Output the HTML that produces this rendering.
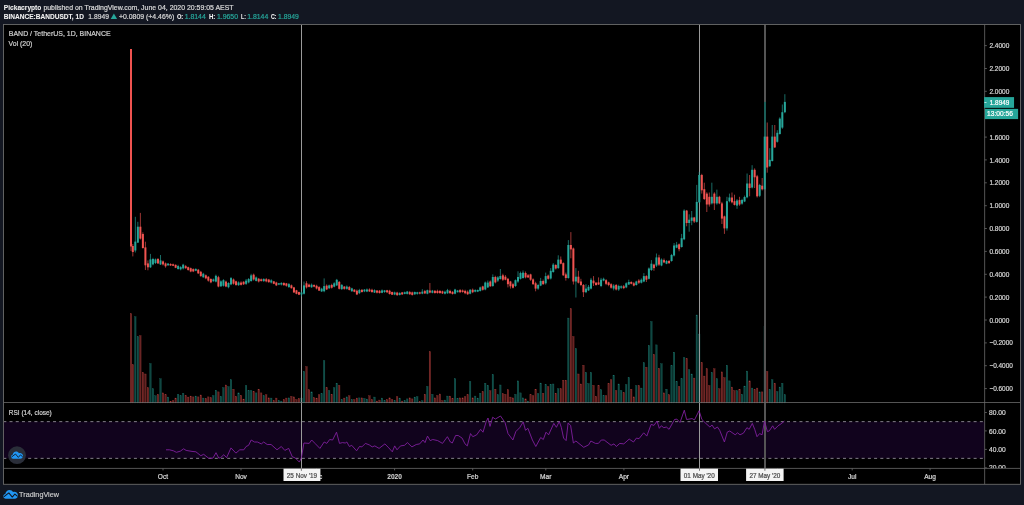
<!DOCTYPE html>
<html lang="en"><head><meta charset="utf-8"><title>BAND / TetherUS chart</title>
<style>html,body{margin:0;padding:0;background:#131722;overflow:hidden}svg{display:block}text{font-family:"Liberation Sans",Arial,sans-serif;white-space:pre}</style>
</head><body>
<svg width="1024" height="505" viewBox="0 0 1024 505">
<rect x="0" y="0" width="1024" height="505" fill="#131722"/>
<rect x="3.5" y="24.5" width="1017.0" height="459.8" fill="#000"/>
<rect x="3.5" y="421.6" width="981.15" height="36.7" fill="#11031d"/>
<line x1="4.0" y1="421.65" x2="984.65" y2="421.65" stroke="#847f8a" stroke-width="1" stroke-dasharray="3.0 3.22" stroke-dashoffset="0.7"/>
<line x1="4.0" y1="458.35" x2="984.65" y2="458.35" stroke="#847f8a" stroke-width="1" stroke-dasharray="3.0 3.22" stroke-dashoffset="0.7"/>
<g>
<rect x="130.28" y="313.68" width="1.44" height="89.22" fill="#ef5350" fill-opacity="0.42" stroke="#ef5350" stroke-opacity="0.55" stroke-width="0.36"/>
<rect x="132.10" y="364.78" width="1.44" height="38.12" fill="#ef5350" fill-opacity="0.42" stroke="#ef5350" stroke-opacity="0.55" stroke-width="0.36"/>
<rect x="134.62" y="316.78" width="1.44" height="86.12" fill="#26a69a" fill-opacity="0.42" stroke="#26a69a" stroke-opacity="0.55" stroke-width="0.36"/>
<rect x="137.13" y="336.58" width="1.44" height="66.32" fill="#26a69a" fill-opacity="0.42" stroke="#26a69a" stroke-opacity="0.55" stroke-width="0.36"/>
<rect x="139.65" y="335.68" width="1.44" height="67.22" fill="#ef5350" fill-opacity="0.42" stroke="#ef5350" stroke-opacity="0.55" stroke-width="0.36"/>
<rect x="142.17" y="372.48" width="1.44" height="30.42" fill="#ef5350" fill-opacity="0.42" stroke="#ef5350" stroke-opacity="0.55" stroke-width="0.36"/>
<rect x="144.69" y="373.98" width="1.44" height="28.92" fill="#ef5350" fill-opacity="0.42" stroke="#ef5350" stroke-opacity="0.55" stroke-width="0.36"/>
<rect x="147.20" y="387.68" width="1.44" height="15.22" fill="#ef5350" fill-opacity="0.42" stroke="#ef5350" stroke-opacity="0.55" stroke-width="0.36"/>
<rect x="149.72" y="363.58" width="1.44" height="39.32" fill="#26a69a" fill-opacity="0.42" stroke="#26a69a" stroke-opacity="0.55" stroke-width="0.36"/>
<rect x="152.24" y="388.78" width="1.44" height="14.12" fill="#26a69a" fill-opacity="0.42" stroke="#26a69a" stroke-opacity="0.55" stroke-width="0.36"/>
<rect x="154.76" y="395.78" width="1.44" height="7.12" fill="#26a69a" fill-opacity="0.42" stroke="#26a69a" stroke-opacity="0.55" stroke-width="0.36"/>
<rect x="157.27" y="394.38" width="1.44" height="8.52" fill="#ef5350" fill-opacity="0.42" stroke="#ef5350" stroke-opacity="0.55" stroke-width="0.36"/>
<rect x="159.79" y="378.78" width="1.44" height="24.12" fill="#26a69a" fill-opacity="0.42" stroke="#26a69a" stroke-opacity="0.55" stroke-width="0.36"/>
<rect x="162.31" y="392.88" width="1.44" height="10.02" fill="#ef5350" fill-opacity="0.42" stroke="#ef5350" stroke-opacity="0.55" stroke-width="0.36"/>
<rect x="164.83" y="394.78" width="1.44" height="8.12" fill="#ef5350" fill-opacity="0.42" stroke="#ef5350" stroke-opacity="0.55" stroke-width="0.36"/>
<rect x="167.34" y="397.08" width="1.44" height="5.82" fill="#26a69a" fill-opacity="0.42" stroke="#26a69a" stroke-opacity="0.55" stroke-width="0.36"/>
<rect x="169.86" y="401.18" width="1.44" height="1.72" fill="#ef5350" fill-opacity="0.42" stroke="#ef5350" stroke-opacity="0.55" stroke-width="0.36"/>
<rect x="172.38" y="400.58" width="1.44" height="2.32" fill="#ef5350" fill-opacity="0.42" stroke="#ef5350" stroke-opacity="0.55" stroke-width="0.36"/>
<rect x="174.90" y="398.08" width="1.44" height="4.82" fill="#ef5350" fill-opacity="0.42" stroke="#ef5350" stroke-opacity="0.55" stroke-width="0.36"/>
<rect x="177.41" y="394.38" width="1.44" height="8.52" fill="#26a69a" fill-opacity="0.42" stroke="#26a69a" stroke-opacity="0.55" stroke-width="0.36"/>
<rect x="179.93" y="395.78" width="1.44" height="7.12" fill="#26a69a" fill-opacity="0.42" stroke="#26a69a" stroke-opacity="0.55" stroke-width="0.36"/>
<rect x="182.45" y="393.28" width="1.44" height="9.62" fill="#26a69a" fill-opacity="0.42" stroke="#26a69a" stroke-opacity="0.55" stroke-width="0.36"/>
<rect x="184.97" y="395.58" width="1.44" height="7.32" fill="#ef5350" fill-opacity="0.42" stroke="#ef5350" stroke-opacity="0.55" stroke-width="0.36"/>
<rect x="187.48" y="397.08" width="1.44" height="5.82" fill="#ef5350" fill-opacity="0.42" stroke="#ef5350" stroke-opacity="0.55" stroke-width="0.36"/>
<rect x="190.00" y="396.08" width="1.44" height="6.82" fill="#ef5350" fill-opacity="0.42" stroke="#ef5350" stroke-opacity="0.55" stroke-width="0.36"/>
<rect x="192.52" y="396.88" width="1.44" height="6.02" fill="#ef5350" fill-opacity="0.42" stroke="#ef5350" stroke-opacity="0.55" stroke-width="0.36"/>
<rect x="195.03" y="396.08" width="1.44" height="6.82" fill="#26a69a" fill-opacity="0.42" stroke="#26a69a" stroke-opacity="0.55" stroke-width="0.36"/>
<rect x="197.55" y="396.88" width="1.44" height="6.02" fill="#ef5350" fill-opacity="0.42" stroke="#ef5350" stroke-opacity="0.55" stroke-width="0.36"/>
<rect x="200.07" y="394.98" width="1.44" height="7.92" fill="#ef5350" fill-opacity="0.42" stroke="#ef5350" stroke-opacity="0.55" stroke-width="0.36"/>
<rect x="202.59" y="398.08" width="1.44" height="4.82" fill="#26a69a" fill-opacity="0.42" stroke="#26a69a" stroke-opacity="0.55" stroke-width="0.36"/>
<rect x="205.11" y="398.48" width="1.44" height="4.42" fill="#ef5350" fill-opacity="0.42" stroke="#ef5350" stroke-opacity="0.55" stroke-width="0.36"/>
<rect x="207.62" y="396.88" width="1.44" height="6.02" fill="#ef5350" fill-opacity="0.42" stroke="#ef5350" stroke-opacity="0.55" stroke-width="0.36"/>
<rect x="210.14" y="397.68" width="1.44" height="5.22" fill="#ef5350" fill-opacity="0.42" stroke="#ef5350" stroke-opacity="0.55" stroke-width="0.36"/>
<rect x="212.66" y="395.58" width="1.44" height="7.32" fill="#26a69a" fill-opacity="0.42" stroke="#26a69a" stroke-opacity="0.55" stroke-width="0.36"/>
<rect x="215.18" y="390.18" width="1.44" height="12.72" fill="#26a69a" fill-opacity="0.42" stroke="#26a69a" stroke-opacity="0.55" stroke-width="0.36"/>
<rect x="217.69" y="391.88" width="1.44" height="11.02" fill="#ef5350" fill-opacity="0.42" stroke="#ef5350" stroke-opacity="0.55" stroke-width="0.36"/>
<rect x="220.21" y="396.38" width="1.44" height="6.52" fill="#26a69a" fill-opacity="0.42" stroke="#26a69a" stroke-opacity="0.55" stroke-width="0.36"/>
<rect x="222.73" y="387.68" width="1.44" height="15.22" fill="#26a69a" fill-opacity="0.42" stroke="#26a69a" stroke-opacity="0.55" stroke-width="0.36"/>
<rect x="225.25" y="384.98" width="1.44" height="17.92" fill="#ef5350" fill-opacity="0.42" stroke="#ef5350" stroke-opacity="0.55" stroke-width="0.36"/>
<rect x="227.76" y="386.68" width="1.44" height="16.22" fill="#26a69a" fill-opacity="0.42" stroke="#26a69a" stroke-opacity="0.55" stroke-width="0.36"/>
<rect x="230.28" y="379.78" width="1.44" height="23.12" fill="#26a69a" fill-opacity="0.42" stroke="#26a69a" stroke-opacity="0.55" stroke-width="0.36"/>
<rect x="232.80" y="389.18" width="1.44" height="13.72" fill="#ef5350" fill-opacity="0.42" stroke="#ef5350" stroke-opacity="0.55" stroke-width="0.36"/>
<rect x="235.32" y="396.38" width="1.44" height="6.52" fill="#ef5350" fill-opacity="0.42" stroke="#ef5350" stroke-opacity="0.55" stroke-width="0.36"/>
<rect x="237.83" y="392.88" width="1.44" height="10.02" fill="#26a69a" fill-opacity="0.42" stroke="#26a69a" stroke-opacity="0.55" stroke-width="0.36"/>
<rect x="240.35" y="395.38" width="1.44" height="7.52" fill="#ef5350" fill-opacity="0.42" stroke="#ef5350" stroke-opacity="0.55" stroke-width="0.36"/>
<rect x="242.87" y="399.08" width="1.44" height="3.82" fill="#ef5350" fill-opacity="0.42" stroke="#ef5350" stroke-opacity="0.55" stroke-width="0.36"/>
<rect x="245.39" y="385.58" width="1.44" height="17.32" fill="#26a69a" fill-opacity="0.42" stroke="#26a69a" stroke-opacity="0.55" stroke-width="0.36"/>
<rect x="247.90" y="390.58" width="1.44" height="12.32" fill="#26a69a" fill-opacity="0.42" stroke="#26a69a" stroke-opacity="0.55" stroke-width="0.36"/>
<rect x="250.42" y="390.58" width="1.44" height="12.32" fill="#26a69a" fill-opacity="0.42" stroke="#26a69a" stroke-opacity="0.55" stroke-width="0.36"/>
<rect x="252.94" y="391.48" width="1.44" height="11.42" fill="#ef5350" fill-opacity="0.42" stroke="#ef5350" stroke-opacity="0.55" stroke-width="0.36"/>
<rect x="255.46" y="392.88" width="1.44" height="10.02" fill="#26a69a" fill-opacity="0.42" stroke="#26a69a" stroke-opacity="0.55" stroke-width="0.36"/>
<rect x="257.97" y="389.18" width="1.44" height="13.72" fill="#ef5350" fill-opacity="0.42" stroke="#ef5350" stroke-opacity="0.55" stroke-width="0.36"/>
<rect x="260.49" y="392.88" width="1.44" height="10.02" fill="#ef5350" fill-opacity="0.42" stroke="#ef5350" stroke-opacity="0.55" stroke-width="0.36"/>
<rect x="263.01" y="395.78" width="1.44" height="7.12" fill="#26a69a" fill-opacity="0.42" stroke="#26a69a" stroke-opacity="0.55" stroke-width="0.36"/>
<rect x="265.52" y="394.78" width="1.44" height="8.12" fill="#ef5350" fill-opacity="0.42" stroke="#ef5350" stroke-opacity="0.55" stroke-width="0.36"/>
<rect x="268.04" y="397.88" width="1.44" height="5.02" fill="#ef5350" fill-opacity="0.42" stroke="#ef5350" stroke-opacity="0.55" stroke-width="0.36"/>
<rect x="270.56" y="398.08" width="1.44" height="4.82" fill="#26a69a" fill-opacity="0.42" stroke="#26a69a" stroke-opacity="0.55" stroke-width="0.36"/>
<rect x="273.08" y="400.58" width="1.44" height="2.32" fill="#ef5350" fill-opacity="0.42" stroke="#ef5350" stroke-opacity="0.55" stroke-width="0.36"/>
<rect x="275.60" y="398.08" width="1.44" height="4.82" fill="#ef5350" fill-opacity="0.42" stroke="#ef5350" stroke-opacity="0.55" stroke-width="0.36"/>
<rect x="278.11" y="400.58" width="1.44" height="2.32" fill="#26a69a" fill-opacity="0.42" stroke="#26a69a" stroke-opacity="0.55" stroke-width="0.36"/>
<rect x="280.63" y="401.08" width="1.44" height="1.82" fill="#26a69a" fill-opacity="0.42" stroke="#26a69a" stroke-opacity="0.55" stroke-width="0.36"/>
<rect x="283.15" y="399.58" width="1.44" height="3.32" fill="#ef5350" fill-opacity="0.42" stroke="#ef5350" stroke-opacity="0.55" stroke-width="0.36"/>
<rect x="285.66" y="398.08" width="1.44" height="4.82" fill="#ef5350" fill-opacity="0.42" stroke="#ef5350" stroke-opacity="0.55" stroke-width="0.36"/>
<rect x="288.18" y="397.88" width="1.44" height="5.02" fill="#26a69a" fill-opacity="0.42" stroke="#26a69a" stroke-opacity="0.55" stroke-width="0.36"/>
<rect x="290.70" y="396.38" width="1.44" height="6.52" fill="#ef5350" fill-opacity="0.42" stroke="#ef5350" stroke-opacity="0.55" stroke-width="0.36"/>
<rect x="293.22" y="396.88" width="1.44" height="6.02" fill="#ef5350" fill-opacity="0.42" stroke="#ef5350" stroke-opacity="0.55" stroke-width="0.36"/>
<rect x="295.74" y="399.58" width="1.44" height="3.32" fill="#ef5350" fill-opacity="0.42" stroke="#ef5350" stroke-opacity="0.55" stroke-width="0.36"/>
<rect x="298.25" y="398.48" width="1.44" height="4.42" fill="#ef5350" fill-opacity="0.42" stroke="#ef5350" stroke-opacity="0.55" stroke-width="0.36"/>
<rect x="300.77" y="398.08" width="1.44" height="4.82" fill="#26a69a" fill-opacity="0.42" stroke="#26a69a" stroke-opacity="0.55" stroke-width="0.36"/>
<rect x="303.29" y="371.48" width="1.44" height="31.42" fill="#26a69a" fill-opacity="0.42" stroke="#26a69a" stroke-opacity="0.55" stroke-width="0.36"/>
<rect x="305.80" y="366.68" width="1.44" height="36.22" fill="#ef5350" fill-opacity="0.42" stroke="#ef5350" stroke-opacity="0.55" stroke-width="0.36"/>
<rect x="308.32" y="389.78" width="1.44" height="13.12" fill="#ef5350" fill-opacity="0.42" stroke="#ef5350" stroke-opacity="0.55" stroke-width="0.36"/>
<rect x="310.84" y="391.88" width="1.44" height="11.02" fill="#26a69a" fill-opacity="0.42" stroke="#26a69a" stroke-opacity="0.55" stroke-width="0.36"/>
<rect x="313.36" y="397.68" width="1.44" height="5.22" fill="#ef5350" fill-opacity="0.42" stroke="#ef5350" stroke-opacity="0.55" stroke-width="0.36"/>
<rect x="315.88" y="398.08" width="1.44" height="4.82" fill="#ef5350" fill-opacity="0.42" stroke="#ef5350" stroke-opacity="0.55" stroke-width="0.36"/>
<rect x="318.39" y="394.78" width="1.44" height="8.12" fill="#ef5350" fill-opacity="0.42" stroke="#ef5350" stroke-opacity="0.55" stroke-width="0.36"/>
<rect x="320.91" y="393.68" width="1.44" height="9.22" fill="#26a69a" fill-opacity="0.42" stroke="#26a69a" stroke-opacity="0.55" stroke-width="0.36"/>
<rect x="323.43" y="360.68" width="1.44" height="42.22" fill="#26a69a" fill-opacity="0.42" stroke="#26a69a" stroke-opacity="0.55" stroke-width="0.36"/>
<rect x="325.94" y="387.68" width="1.44" height="15.22" fill="#ef5350" fill-opacity="0.42" stroke="#ef5350" stroke-opacity="0.55" stroke-width="0.36"/>
<rect x="328.46" y="390.58" width="1.44" height="12.32" fill="#26a69a" fill-opacity="0.42" stroke="#26a69a" stroke-opacity="0.55" stroke-width="0.36"/>
<rect x="330.98" y="394.38" width="1.44" height="8.52" fill="#ef5350" fill-opacity="0.42" stroke="#ef5350" stroke-opacity="0.55" stroke-width="0.36"/>
<rect x="333.50" y="387.68" width="1.44" height="15.22" fill="#26a69a" fill-opacity="0.42" stroke="#26a69a" stroke-opacity="0.55" stroke-width="0.36"/>
<rect x="336.01" y="383.28" width="1.44" height="19.62" fill="#26a69a" fill-opacity="0.42" stroke="#26a69a" stroke-opacity="0.55" stroke-width="0.36"/>
<rect x="338.53" y="385.38" width="1.44" height="17.52" fill="#ef5350" fill-opacity="0.42" stroke="#ef5350" stroke-opacity="0.55" stroke-width="0.36"/>
<rect x="341.05" y="399.58" width="1.44" height="3.32" fill="#26a69a" fill-opacity="0.42" stroke="#26a69a" stroke-opacity="0.55" stroke-width="0.36"/>
<rect x="343.57" y="398.08" width="1.44" height="4.82" fill="#ef5350" fill-opacity="0.42" stroke="#ef5350" stroke-opacity="0.55" stroke-width="0.36"/>
<rect x="346.08" y="396.88" width="1.44" height="6.02" fill="#26a69a" fill-opacity="0.42" stroke="#26a69a" stroke-opacity="0.55" stroke-width="0.36"/>
<rect x="348.60" y="395.78" width="1.44" height="7.12" fill="#ef5350" fill-opacity="0.42" stroke="#ef5350" stroke-opacity="0.55" stroke-width="0.36"/>
<rect x="351.12" y="399.58" width="1.44" height="3.32" fill="#26a69a" fill-opacity="0.42" stroke="#26a69a" stroke-opacity="0.55" stroke-width="0.36"/>
<rect x="353.64" y="399.58" width="1.44" height="3.32" fill="#ef5350" fill-opacity="0.42" stroke="#ef5350" stroke-opacity="0.55" stroke-width="0.36"/>
<rect x="356.15" y="398.08" width="1.44" height="4.82" fill="#ef5350" fill-opacity="0.42" stroke="#ef5350" stroke-opacity="0.55" stroke-width="0.36"/>
<rect x="358.67" y="397.88" width="1.44" height="5.02" fill="#26a69a" fill-opacity="0.42" stroke="#26a69a" stroke-opacity="0.55" stroke-width="0.36"/>
<rect x="361.19" y="397.88" width="1.44" height="5.02" fill="#ef5350" fill-opacity="0.42" stroke="#ef5350" stroke-opacity="0.55" stroke-width="0.36"/>
<rect x="363.71" y="398.48" width="1.44" height="4.42" fill="#26a69a" fill-opacity="0.42" stroke="#26a69a" stroke-opacity="0.55" stroke-width="0.36"/>
<rect x="366.23" y="399.08" width="1.44" height="3.82" fill="#26a69a" fill-opacity="0.42" stroke="#26a69a" stroke-opacity="0.55" stroke-width="0.36"/>
<rect x="368.74" y="395.78" width="1.44" height="7.12" fill="#ef5350" fill-opacity="0.42" stroke="#ef5350" stroke-opacity="0.55" stroke-width="0.36"/>
<rect x="371.26" y="399.58" width="1.44" height="3.32" fill="#ef5350" fill-opacity="0.42" stroke="#ef5350" stroke-opacity="0.55" stroke-width="0.36"/>
<rect x="373.78" y="397.08" width="1.44" height="5.82" fill="#26a69a" fill-opacity="0.42" stroke="#26a69a" stroke-opacity="0.55" stroke-width="0.36"/>
<rect x="376.29" y="401.08" width="1.44" height="1.82" fill="#ef5350" fill-opacity="0.42" stroke="#ef5350" stroke-opacity="0.55" stroke-width="0.36"/>
<rect x="378.81" y="400.08" width="1.44" height="2.82" fill="#ef5350" fill-opacity="0.42" stroke="#ef5350" stroke-opacity="0.55" stroke-width="0.36"/>
<rect x="381.33" y="398.08" width="1.44" height="4.82" fill="#26a69a" fill-opacity="0.42" stroke="#26a69a" stroke-opacity="0.55" stroke-width="0.36"/>
<rect x="383.85" y="400.58" width="1.44" height="2.32" fill="#26a69a" fill-opacity="0.42" stroke="#26a69a" stroke-opacity="0.55" stroke-width="0.36"/>
<rect x="386.37" y="399.58" width="1.44" height="3.32" fill="#ef5350" fill-opacity="0.42" stroke="#ef5350" stroke-opacity="0.55" stroke-width="0.36"/>
<rect x="388.88" y="397.88" width="1.44" height="5.02" fill="#ef5350" fill-opacity="0.42" stroke="#ef5350" stroke-opacity="0.55" stroke-width="0.36"/>
<rect x="391.40" y="399.58" width="1.44" height="3.32" fill="#ef5350" fill-opacity="0.42" stroke="#ef5350" stroke-opacity="0.55" stroke-width="0.36"/>
<rect x="393.92" y="400.58" width="1.44" height="2.32" fill="#26a69a" fill-opacity="0.42" stroke="#26a69a" stroke-opacity="0.55" stroke-width="0.36"/>
<rect x="396.44" y="396.68" width="1.44" height="6.22" fill="#ef5350" fill-opacity="0.42" stroke="#ef5350" stroke-opacity="0.55" stroke-width="0.36"/>
<rect x="398.95" y="398.08" width="1.44" height="4.82" fill="#26a69a" fill-opacity="0.42" stroke="#26a69a" stroke-opacity="0.55" stroke-width="0.36"/>
<rect x="401.47" y="401.08" width="1.44" height="1.82" fill="#ef5350" fill-opacity="0.42" stroke="#ef5350" stroke-opacity="0.55" stroke-width="0.36"/>
<rect x="403.99" y="400.58" width="1.44" height="2.32" fill="#26a69a" fill-opacity="0.42" stroke="#26a69a" stroke-opacity="0.55" stroke-width="0.36"/>
<rect x="406.50" y="398.88" width="1.44" height="4.02" fill="#26a69a" fill-opacity="0.42" stroke="#26a69a" stroke-opacity="0.55" stroke-width="0.36"/>
<rect x="409.02" y="397.88" width="1.44" height="5.02" fill="#ef5350" fill-opacity="0.42" stroke="#ef5350" stroke-opacity="0.55" stroke-width="0.36"/>
<rect x="411.54" y="398.88" width="1.44" height="4.02" fill="#ef5350" fill-opacity="0.42" stroke="#ef5350" stroke-opacity="0.55" stroke-width="0.36"/>
<rect x="414.06" y="397.08" width="1.44" height="5.82" fill="#26a69a" fill-opacity="0.42" stroke="#26a69a" stroke-opacity="0.55" stroke-width="0.36"/>
<rect x="416.57" y="396.68" width="1.44" height="6.22" fill="#26a69a" fill-opacity="0.42" stroke="#26a69a" stroke-opacity="0.55" stroke-width="0.36"/>
<rect x="419.09" y="401.58" width="1.44" height="1.32" fill="#ef5350" fill-opacity="0.42" stroke="#ef5350" stroke-opacity="0.55" stroke-width="0.36"/>
<rect x="421.61" y="400.78" width="1.44" height="2.12" fill="#26a69a" fill-opacity="0.42" stroke="#26a69a" stroke-opacity="0.55" stroke-width="0.36"/>
<rect x="424.13" y="394.38" width="1.44" height="8.52" fill="#ef5350" fill-opacity="0.42" stroke="#ef5350" stroke-opacity="0.55" stroke-width="0.36"/>
<rect x="426.64" y="386.48" width="1.44" height="16.42" fill="#26a69a" fill-opacity="0.42" stroke="#26a69a" stroke-opacity="0.55" stroke-width="0.36"/>
<rect x="429.16" y="351.68" width="1.44" height="51.22" fill="#ef5350" fill-opacity="0.42" stroke="#ef5350" stroke-opacity="0.55" stroke-width="0.36"/>
<rect x="431.68" y="394.38" width="1.44" height="8.52" fill="#26a69a" fill-opacity="0.42" stroke="#26a69a" stroke-opacity="0.55" stroke-width="0.36"/>
<rect x="434.20" y="397.88" width="1.44" height="5.02" fill="#ef5350" fill-opacity="0.42" stroke="#ef5350" stroke-opacity="0.55" stroke-width="0.36"/>
<rect x="436.71" y="395.58" width="1.44" height="7.32" fill="#ef5350" fill-opacity="0.42" stroke="#ef5350" stroke-opacity="0.55" stroke-width="0.36"/>
<rect x="439.23" y="393.98" width="1.44" height="8.92" fill="#ef5350" fill-opacity="0.42" stroke="#ef5350" stroke-opacity="0.55" stroke-width="0.36"/>
<rect x="441.75" y="400.58" width="1.44" height="2.32" fill="#ef5350" fill-opacity="0.42" stroke="#ef5350" stroke-opacity="0.55" stroke-width="0.36"/>
<rect x="444.27" y="400.08" width="1.44" height="2.82" fill="#26a69a" fill-opacity="0.42" stroke="#26a69a" stroke-opacity="0.55" stroke-width="0.36"/>
<rect x="446.78" y="396.08" width="1.44" height="6.82" fill="#26a69a" fill-opacity="0.42" stroke="#26a69a" stroke-opacity="0.55" stroke-width="0.36"/>
<rect x="449.30" y="396.08" width="1.44" height="6.82" fill="#ef5350" fill-opacity="0.42" stroke="#ef5350" stroke-opacity="0.55" stroke-width="0.36"/>
<rect x="451.82" y="398.48" width="1.44" height="4.42" fill="#ef5350" fill-opacity="0.42" stroke="#ef5350" stroke-opacity="0.55" stroke-width="0.36"/>
<rect x="454.34" y="378.78" width="1.44" height="24.12" fill="#26a69a" fill-opacity="0.42" stroke="#26a69a" stroke-opacity="0.55" stroke-width="0.36"/>
<rect x="456.86" y="398.48" width="1.44" height="4.42" fill="#26a69a" fill-opacity="0.42" stroke="#26a69a" stroke-opacity="0.55" stroke-width="0.36"/>
<rect x="459.37" y="397.88" width="1.44" height="5.02" fill="#ef5350" fill-opacity="0.42" stroke="#ef5350" stroke-opacity="0.55" stroke-width="0.36"/>
<rect x="461.89" y="397.88" width="1.44" height="5.02" fill="#ef5350" fill-opacity="0.42" stroke="#ef5350" stroke-opacity="0.55" stroke-width="0.36"/>
<rect x="464.41" y="396.68" width="1.44" height="6.22" fill="#ef5350" fill-opacity="0.42" stroke="#ef5350" stroke-opacity="0.55" stroke-width="0.36"/>
<rect x="466.93" y="394.78" width="1.44" height="8.12" fill="#ef5350" fill-opacity="0.42" stroke="#ef5350" stroke-opacity="0.55" stroke-width="0.36"/>
<rect x="469.44" y="381.48" width="1.44" height="21.42" fill="#26a69a" fill-opacity="0.42" stroke="#26a69a" stroke-opacity="0.55" stroke-width="0.36"/>
<rect x="471.96" y="397.88" width="1.44" height="5.02" fill="#ef5350" fill-opacity="0.42" stroke="#ef5350" stroke-opacity="0.55" stroke-width="0.36"/>
<rect x="474.48" y="396.08" width="1.44" height="6.82" fill="#26a69a" fill-opacity="0.42" stroke="#26a69a" stroke-opacity="0.55" stroke-width="0.36"/>
<rect x="477.00" y="398.08" width="1.44" height="4.82" fill="#26a69a" fill-opacity="0.42" stroke="#26a69a" stroke-opacity="0.55" stroke-width="0.36"/>
<rect x="479.51" y="393.28" width="1.44" height="9.62" fill="#26a69a" fill-opacity="0.42" stroke="#26a69a" stroke-opacity="0.55" stroke-width="0.36"/>
<rect x="482.03" y="391.68" width="1.44" height="11.22" fill="#ef5350" fill-opacity="0.42" stroke="#ef5350" stroke-opacity="0.55" stroke-width="0.36"/>
<rect x="484.55" y="383.28" width="1.44" height="19.62" fill="#26a69a" fill-opacity="0.42" stroke="#26a69a" stroke-opacity="0.55" stroke-width="0.36"/>
<rect x="487.06" y="385.38" width="1.44" height="17.52" fill="#26a69a" fill-opacity="0.42" stroke="#26a69a" stroke-opacity="0.55" stroke-width="0.36"/>
<rect x="489.58" y="390.78" width="1.44" height="12.12" fill="#ef5350" fill-opacity="0.42" stroke="#ef5350" stroke-opacity="0.55" stroke-width="0.36"/>
<rect x="492.10" y="374.58" width="1.44" height="28.32" fill="#26a69a" fill-opacity="0.42" stroke="#26a69a" stroke-opacity="0.55" stroke-width="0.36"/>
<rect x="494.62" y="389.18" width="1.44" height="13.72" fill="#ef5350" fill-opacity="0.42" stroke="#ef5350" stroke-opacity="0.55" stroke-width="0.36"/>
<rect x="497.13" y="394.78" width="1.44" height="8.12" fill="#26a69a" fill-opacity="0.42" stroke="#26a69a" stroke-opacity="0.55" stroke-width="0.36"/>
<rect x="499.65" y="384.98" width="1.44" height="17.92" fill="#26a69a" fill-opacity="0.42" stroke="#26a69a" stroke-opacity="0.55" stroke-width="0.36"/>
<rect x="502.17" y="393.68" width="1.44" height="9.22" fill="#ef5350" fill-opacity="0.42" stroke="#ef5350" stroke-opacity="0.55" stroke-width="0.36"/>
<rect x="504.69" y="394.38" width="1.44" height="8.52" fill="#ef5350" fill-opacity="0.42" stroke="#ef5350" stroke-opacity="0.55" stroke-width="0.36"/>
<rect x="507.20" y="389.78" width="1.44" height="13.12" fill="#ef5350" fill-opacity="0.42" stroke="#ef5350" stroke-opacity="0.55" stroke-width="0.36"/>
<rect x="509.72" y="397.08" width="1.44" height="5.82" fill="#ef5350" fill-opacity="0.42" stroke="#ef5350" stroke-opacity="0.55" stroke-width="0.36"/>
<rect x="512.24" y="397.88" width="1.44" height="5.02" fill="#ef5350" fill-opacity="0.42" stroke="#ef5350" stroke-opacity="0.55" stroke-width="0.36"/>
<rect x="514.76" y="394.38" width="1.44" height="8.52" fill="#26a69a" fill-opacity="0.42" stroke="#26a69a" stroke-opacity="0.55" stroke-width="0.36"/>
<rect x="517.27" y="380.88" width="1.44" height="22.02" fill="#26a69a" fill-opacity="0.42" stroke="#26a69a" stroke-opacity="0.55" stroke-width="0.36"/>
<rect x="519.79" y="392.88" width="1.44" height="10.02" fill="#26a69a" fill-opacity="0.42" stroke="#26a69a" stroke-opacity="0.55" stroke-width="0.36"/>
<rect x="522.31" y="397.88" width="1.44" height="5.02" fill="#26a69a" fill-opacity="0.42" stroke="#26a69a" stroke-opacity="0.55" stroke-width="0.36"/>
<rect x="524.83" y="398.88" width="1.44" height="4.02" fill="#ef5350" fill-opacity="0.42" stroke="#ef5350" stroke-opacity="0.55" stroke-width="0.36"/>
<rect x="527.35" y="401.08" width="1.44" height="1.82" fill="#26a69a" fill-opacity="0.42" stroke="#26a69a" stroke-opacity="0.55" stroke-width="0.36"/>
<rect x="529.86" y="394.78" width="1.44" height="8.12" fill="#ef5350" fill-opacity="0.42" stroke="#ef5350" stroke-opacity="0.55" stroke-width="0.36"/>
<rect x="532.38" y="395.78" width="1.44" height="7.12" fill="#ef5350" fill-opacity="0.42" stroke="#ef5350" stroke-opacity="0.55" stroke-width="0.36"/>
<rect x="534.90" y="389.18" width="1.44" height="13.72" fill="#ef5350" fill-opacity="0.42" stroke="#ef5350" stroke-opacity="0.55" stroke-width="0.36"/>
<rect x="537.41" y="393.68" width="1.44" height="9.22" fill="#26a69a" fill-opacity="0.42" stroke="#26a69a" stroke-opacity="0.55" stroke-width="0.36"/>
<rect x="539.93" y="383.08" width="1.44" height="19.82" fill="#26a69a" fill-opacity="0.42" stroke="#26a69a" stroke-opacity="0.55" stroke-width="0.36"/>
<rect x="542.45" y="393.28" width="1.44" height="9.62" fill="#ef5350" fill-opacity="0.42" stroke="#ef5350" stroke-opacity="0.55" stroke-width="0.36"/>
<rect x="544.97" y="384.38" width="1.44" height="18.52" fill="#26a69a" fill-opacity="0.42" stroke="#26a69a" stroke-opacity="0.55" stroke-width="0.36"/>
<rect x="547.49" y="386.68" width="1.44" height="16.22" fill="#ef5350" fill-opacity="0.42" stroke="#ef5350" stroke-opacity="0.55" stroke-width="0.36"/>
<rect x="550.00" y="384.38" width="1.44" height="18.52" fill="#26a69a" fill-opacity="0.42" stroke="#26a69a" stroke-opacity="0.55" stroke-width="0.36"/>
<rect x="552.52" y="383.98" width="1.44" height="18.92" fill="#26a69a" fill-opacity="0.42" stroke="#26a69a" stroke-opacity="0.55" stroke-width="0.36"/>
<rect x="555.04" y="393.28" width="1.44" height="9.62" fill="#ef5350" fill-opacity="0.42" stroke="#ef5350" stroke-opacity="0.55" stroke-width="0.36"/>
<rect x="557.56" y="388.78" width="1.44" height="14.12" fill="#26a69a" fill-opacity="0.42" stroke="#26a69a" stroke-opacity="0.55" stroke-width="0.36"/>
<rect x="560.07" y="388.78" width="1.44" height="14.12" fill="#ef5350" fill-opacity="0.42" stroke="#ef5350" stroke-opacity="0.55" stroke-width="0.36"/>
<rect x="562.59" y="380.18" width="1.44" height="22.72" fill="#ef5350" fill-opacity="0.42" stroke="#ef5350" stroke-opacity="0.55" stroke-width="0.36"/>
<rect x="565.11" y="380.18" width="1.44" height="22.72" fill="#ef5350" fill-opacity="0.42" stroke="#ef5350" stroke-opacity="0.55" stroke-width="0.36"/>
<rect x="567.62" y="318.08" width="1.44" height="84.82" fill="#26a69a" fill-opacity="0.42" stroke="#26a69a" stroke-opacity="0.55" stroke-width="0.36"/>
<rect x="570.14" y="308.68" width="1.44" height="94.22" fill="#ef5350" fill-opacity="0.42" stroke="#ef5350" stroke-opacity="0.55" stroke-width="0.36"/>
<rect x="572.66" y="336.58" width="1.44" height="66.32" fill="#ef5350" fill-opacity="0.42" stroke="#ef5350" stroke-opacity="0.55" stroke-width="0.36"/>
<rect x="575.18" y="348.58" width="1.44" height="54.32" fill="#26a69a" fill-opacity="0.42" stroke="#26a69a" stroke-opacity="0.55" stroke-width="0.36"/>
<rect x="577.69" y="373.98" width="1.44" height="28.92" fill="#ef5350" fill-opacity="0.42" stroke="#ef5350" stroke-opacity="0.55" stroke-width="0.36"/>
<rect x="580.21" y="383.98" width="1.44" height="18.92" fill="#ef5350" fill-opacity="0.42" stroke="#ef5350" stroke-opacity="0.55" stroke-width="0.36"/>
<rect x="582.73" y="365.28" width="1.44" height="37.62" fill="#ef5350" fill-opacity="0.42" stroke="#ef5350" stroke-opacity="0.55" stroke-width="0.36"/>
<rect x="585.25" y="372.48" width="1.44" height="30.42" fill="#26a69a" fill-opacity="0.42" stroke="#26a69a" stroke-opacity="0.55" stroke-width="0.36"/>
<rect x="587.76" y="383.58" width="1.44" height="19.32" fill="#26a69a" fill-opacity="0.42" stroke="#26a69a" stroke-opacity="0.55" stroke-width="0.36"/>
<rect x="590.28" y="372.48" width="1.44" height="30.42" fill="#26a69a" fill-opacity="0.42" stroke="#26a69a" stroke-opacity="0.55" stroke-width="0.36"/>
<rect x="592.80" y="385.38" width="1.44" height="17.52" fill="#ef5350" fill-opacity="0.42" stroke="#ef5350" stroke-opacity="0.55" stroke-width="0.36"/>
<rect x="595.32" y="396.38" width="1.44" height="6.52" fill="#ef5350" fill-opacity="0.42" stroke="#ef5350" stroke-opacity="0.55" stroke-width="0.36"/>
<rect x="597.84" y="385.58" width="1.44" height="17.32" fill="#ef5350" fill-opacity="0.42" stroke="#ef5350" stroke-opacity="0.55" stroke-width="0.36"/>
<rect x="600.35" y="389.78" width="1.44" height="13.12" fill="#26a69a" fill-opacity="0.42" stroke="#26a69a" stroke-opacity="0.55" stroke-width="0.36"/>
<rect x="602.87" y="395.58" width="1.44" height="7.32" fill="#26a69a" fill-opacity="0.42" stroke="#26a69a" stroke-opacity="0.55" stroke-width="0.36"/>
<rect x="605.39" y="395.78" width="1.44" height="7.12" fill="#ef5350" fill-opacity="0.42" stroke="#ef5350" stroke-opacity="0.55" stroke-width="0.36"/>
<rect x="607.90" y="383.58" width="1.44" height="19.32" fill="#ef5350" fill-opacity="0.42" stroke="#ef5350" stroke-opacity="0.55" stroke-width="0.36"/>
<rect x="610.42" y="379.78" width="1.44" height="23.12" fill="#ef5350" fill-opacity="0.42" stroke="#ef5350" stroke-opacity="0.55" stroke-width="0.36"/>
<rect x="612.94" y="375.18" width="1.44" height="27.72" fill="#26a69a" fill-opacity="0.42" stroke="#26a69a" stroke-opacity="0.55" stroke-width="0.36"/>
<rect x="615.46" y="390.58" width="1.44" height="12.32" fill="#ef5350" fill-opacity="0.42" stroke="#ef5350" stroke-opacity="0.55" stroke-width="0.36"/>
<rect x="617.98" y="383.98" width="1.44" height="18.92" fill="#26a69a" fill-opacity="0.42" stroke="#26a69a" stroke-opacity="0.55" stroke-width="0.36"/>
<rect x="620.49" y="390.58" width="1.44" height="12.32" fill="#26a69a" fill-opacity="0.42" stroke="#26a69a" stroke-opacity="0.55" stroke-width="0.36"/>
<rect x="623.01" y="392.68" width="1.44" height="10.22" fill="#ef5350" fill-opacity="0.42" stroke="#ef5350" stroke-opacity="0.55" stroke-width="0.36"/>
<rect x="625.53" y="384.58" width="1.44" height="18.32" fill="#26a69a" fill-opacity="0.42" stroke="#26a69a" stroke-opacity="0.55" stroke-width="0.36"/>
<rect x="628.05" y="377.68" width="1.44" height="25.22" fill="#26a69a" fill-opacity="0.42" stroke="#26a69a" stroke-opacity="0.55" stroke-width="0.36"/>
<rect x="630.56" y="389.18" width="1.44" height="13.72" fill="#ef5350" fill-opacity="0.42" stroke="#ef5350" stroke-opacity="0.55" stroke-width="0.36"/>
<rect x="633.08" y="396.88" width="1.44" height="6.02" fill="#ef5350" fill-opacity="0.42" stroke="#ef5350" stroke-opacity="0.55" stroke-width="0.36"/>
<rect x="635.60" y="385.58" width="1.44" height="17.32" fill="#26a69a" fill-opacity="0.42" stroke="#26a69a" stroke-opacity="0.55" stroke-width="0.36"/>
<rect x="638.12" y="385.58" width="1.44" height="17.32" fill="#ef5350" fill-opacity="0.42" stroke="#ef5350" stroke-opacity="0.55" stroke-width="0.36"/>
<rect x="640.63" y="388.08" width="1.44" height="14.82" fill="#26a69a" fill-opacity="0.42" stroke="#26a69a" stroke-opacity="0.55" stroke-width="0.36"/>
<rect x="643.15" y="362.78" width="1.44" height="40.12" fill="#26a69a" fill-opacity="0.42" stroke="#26a69a" stroke-opacity="0.55" stroke-width="0.36"/>
<rect x="645.67" y="367.28" width="1.44" height="35.62" fill="#ef5350" fill-opacity="0.42" stroke="#ef5350" stroke-opacity="0.55" stroke-width="0.36"/>
<rect x="648.18" y="345.48" width="1.44" height="57.42" fill="#26a69a" fill-opacity="0.42" stroke="#26a69a" stroke-opacity="0.55" stroke-width="0.36"/>
<rect x="650.70" y="321.58" width="1.44" height="81.32" fill="#26a69a" fill-opacity="0.42" stroke="#26a69a" stroke-opacity="0.55" stroke-width="0.36"/>
<rect x="653.22" y="354.48" width="1.44" height="48.42" fill="#ef5350" fill-opacity="0.42" stroke="#ef5350" stroke-opacity="0.55" stroke-width="0.36"/>
<rect x="655.74" y="344.88" width="1.44" height="58.02" fill="#26a69a" fill-opacity="0.42" stroke="#26a69a" stroke-opacity="0.55" stroke-width="0.36"/>
<rect x="658.26" y="368.38" width="1.44" height="34.52" fill="#ef5350" fill-opacity="0.42" stroke="#ef5350" stroke-opacity="0.55" stroke-width="0.36"/>
<rect x="660.77" y="363.78" width="1.44" height="39.12" fill="#26a69a" fill-opacity="0.42" stroke="#26a69a" stroke-opacity="0.55" stroke-width="0.36"/>
<rect x="663.29" y="392.88" width="1.44" height="10.02" fill="#ef5350" fill-opacity="0.42" stroke="#ef5350" stroke-opacity="0.55" stroke-width="0.36"/>
<rect x="665.81" y="389.18" width="1.44" height="13.72" fill="#26a69a" fill-opacity="0.42" stroke="#26a69a" stroke-opacity="0.55" stroke-width="0.36"/>
<rect x="668.33" y="394.78" width="1.44" height="8.12" fill="#ef5350" fill-opacity="0.42" stroke="#ef5350" stroke-opacity="0.55" stroke-width="0.36"/>
<rect x="670.84" y="365.68" width="1.44" height="37.22" fill="#26a69a" fill-opacity="0.42" stroke="#26a69a" stroke-opacity="0.55" stroke-width="0.36"/>
<rect x="673.36" y="352.18" width="1.44" height="50.72" fill="#26a69a" fill-opacity="0.42" stroke="#26a69a" stroke-opacity="0.55" stroke-width="0.36"/>
<rect x="675.88" y="381.48" width="1.44" height="21.42" fill="#26a69a" fill-opacity="0.42" stroke="#26a69a" stroke-opacity="0.55" stroke-width="0.36"/>
<rect x="678.39" y="386.48" width="1.44" height="16.42" fill="#ef5350" fill-opacity="0.42" stroke="#ef5350" stroke-opacity="0.55" stroke-width="0.36"/>
<rect x="680.91" y="378.78" width="1.44" height="24.12" fill="#26a69a" fill-opacity="0.42" stroke="#26a69a" stroke-opacity="0.55" stroke-width="0.36"/>
<rect x="683.43" y="357.58" width="1.44" height="45.32" fill="#26a69a" fill-opacity="0.42" stroke="#26a69a" stroke-opacity="0.55" stroke-width="0.36"/>
<rect x="685.95" y="358.58" width="1.44" height="44.32" fill="#ef5350" fill-opacity="0.42" stroke="#ef5350" stroke-opacity="0.55" stroke-width="0.36"/>
<rect x="688.46" y="369.78" width="1.44" height="33.12" fill="#26a69a" fill-opacity="0.42" stroke="#26a69a" stroke-opacity="0.55" stroke-width="0.36"/>
<rect x="690.98" y="373.98" width="1.44" height="28.92" fill="#26a69a" fill-opacity="0.42" stroke="#26a69a" stroke-opacity="0.55" stroke-width="0.36"/>
<rect x="693.50" y="378.08" width="1.44" height="24.82" fill="#ef5350" fill-opacity="0.42" stroke="#ef5350" stroke-opacity="0.55" stroke-width="0.36"/>
<rect x="696.02" y="314.98" width="1.44" height="87.92" fill="#26a69a" fill-opacity="0.42" stroke="#26a69a" stroke-opacity="0.55" stroke-width="0.36"/>
<rect x="698.54" y="334.08" width="1.44" height="68.82" fill="#26a69a" fill-opacity="0.42" stroke="#26a69a" stroke-opacity="0.55" stroke-width="0.36"/>
<rect x="701.05" y="362.58" width="1.44" height="40.32" fill="#ef5350" fill-opacity="0.42" stroke="#ef5350" stroke-opacity="0.55" stroke-width="0.36"/>
<rect x="703.57" y="376.08" width="1.44" height="26.82" fill="#ef5350" fill-opacity="0.42" stroke="#ef5350" stroke-opacity="0.55" stroke-width="0.36"/>
<rect x="706.09" y="368.78" width="1.44" height="34.12" fill="#ef5350" fill-opacity="0.42" stroke="#ef5350" stroke-opacity="0.55" stroke-width="0.36"/>
<rect x="708.61" y="385.58" width="1.44" height="17.32" fill="#ef5350" fill-opacity="0.42" stroke="#ef5350" stroke-opacity="0.55" stroke-width="0.36"/>
<rect x="711.12" y="372.48" width="1.44" height="30.42" fill="#26a69a" fill-opacity="0.42" stroke="#26a69a" stroke-opacity="0.55" stroke-width="0.36"/>
<rect x="713.64" y="368.78" width="1.44" height="34.12" fill="#ef5350" fill-opacity="0.42" stroke="#ef5350" stroke-opacity="0.55" stroke-width="0.36"/>
<rect x="716.16" y="378.78" width="1.44" height="24.12" fill="#26a69a" fill-opacity="0.42" stroke="#26a69a" stroke-opacity="0.55" stroke-width="0.36"/>
<rect x="718.67" y="388.78" width="1.44" height="14.12" fill="#ef5350" fill-opacity="0.42" stroke="#ef5350" stroke-opacity="0.55" stroke-width="0.36"/>
<rect x="721.19" y="371.88" width="1.44" height="31.02" fill="#ef5350" fill-opacity="0.42" stroke="#ef5350" stroke-opacity="0.55" stroke-width="0.36"/>
<rect x="723.71" y="377.68" width="1.44" height="25.22" fill="#ef5350" fill-opacity="0.42" stroke="#ef5350" stroke-opacity="0.55" stroke-width="0.36"/>
<rect x="726.23" y="365.28" width="1.44" height="37.62" fill="#26a69a" fill-opacity="0.42" stroke="#26a69a" stroke-opacity="0.55" stroke-width="0.36"/>
<rect x="728.74" y="380.88" width="1.44" height="22.02" fill="#26a69a" fill-opacity="0.42" stroke="#26a69a" stroke-opacity="0.55" stroke-width="0.36"/>
<rect x="731.26" y="387.08" width="1.44" height="15.82" fill="#ef5350" fill-opacity="0.42" stroke="#ef5350" stroke-opacity="0.55" stroke-width="0.36"/>
<rect x="733.78" y="390.58" width="1.44" height="12.32" fill="#ef5350" fill-opacity="0.42" stroke="#ef5350" stroke-opacity="0.55" stroke-width="0.36"/>
<rect x="736.30" y="390.78" width="1.44" height="12.12" fill="#26a69a" fill-opacity="0.42" stroke="#26a69a" stroke-opacity="0.55" stroke-width="0.36"/>
<rect x="738.82" y="389.18" width="1.44" height="13.72" fill="#ef5350" fill-opacity="0.42" stroke="#ef5350" stroke-opacity="0.55" stroke-width="0.36"/>
<rect x="741.33" y="394.38" width="1.44" height="8.52" fill="#26a69a" fill-opacity="0.42" stroke="#26a69a" stroke-opacity="0.55" stroke-width="0.36"/>
<rect x="743.85" y="386.08" width="1.44" height="16.82" fill="#26a69a" fill-opacity="0.42" stroke="#26a69a" stroke-opacity="0.55" stroke-width="0.36"/>
<rect x="746.37" y="371.08" width="1.44" height="31.82" fill="#26a69a" fill-opacity="0.42" stroke="#26a69a" stroke-opacity="0.55" stroke-width="0.36"/>
<rect x="748.88" y="380.88" width="1.44" height="22.02" fill="#ef5350" fill-opacity="0.42" stroke="#ef5350" stroke-opacity="0.55" stroke-width="0.36"/>
<rect x="751.40" y="388.08" width="1.44" height="14.82" fill="#26a69a" fill-opacity="0.42" stroke="#26a69a" stroke-opacity="0.55" stroke-width="0.36"/>
<rect x="753.92" y="389.58" width="1.44" height="13.32" fill="#ef5350" fill-opacity="0.42" stroke="#ef5350" stroke-opacity="0.55" stroke-width="0.36"/>
<rect x="756.44" y="388.08" width="1.44" height="14.82" fill="#ef5350" fill-opacity="0.42" stroke="#ef5350" stroke-opacity="0.55" stroke-width="0.36"/>
<rect x="758.95" y="391.88" width="1.44" height="11.02" fill="#26a69a" fill-opacity="0.42" stroke="#26a69a" stroke-opacity="0.55" stroke-width="0.36"/>
<rect x="761.47" y="391.88" width="1.44" height="11.02" fill="#ef5350" fill-opacity="0.42" stroke="#ef5350" stroke-opacity="0.55" stroke-width="0.36"/>
<rect x="763.99" y="326.78" width="1.44" height="76.12" fill="#26a69a" fill-opacity="0.42" stroke="#26a69a" stroke-opacity="0.55" stroke-width="0.36"/>
<rect x="766.51" y="371.48" width="1.44" height="31.42" fill="#ef5350" fill-opacity="0.42" stroke="#ef5350" stroke-opacity="0.55" stroke-width="0.36"/>
<rect x="769.03" y="389.58" width="1.44" height="13.32" fill="#26a69a" fill-opacity="0.42" stroke="#26a69a" stroke-opacity="0.55" stroke-width="0.36"/>
<rect x="771.54" y="379.78" width="1.44" height="23.12" fill="#26a69a" fill-opacity="0.42" stroke="#26a69a" stroke-opacity="0.55" stroke-width="0.36"/>
<rect x="774.06" y="383.28" width="1.44" height="19.62" fill="#ef5350" fill-opacity="0.42" stroke="#ef5350" stroke-opacity="0.55" stroke-width="0.36"/>
<rect x="776.58" y="391.68" width="1.44" height="11.22" fill="#26a69a" fill-opacity="0.42" stroke="#26a69a" stroke-opacity="0.55" stroke-width="0.36"/>
<rect x="779.10" y="387.08" width="1.44" height="15.82" fill="#26a69a" fill-opacity="0.42" stroke="#26a69a" stroke-opacity="0.55" stroke-width="0.36"/>
<rect x="781.61" y="383.28" width="1.44" height="19.62" fill="#26a69a" fill-opacity="0.42" stroke="#26a69a" stroke-opacity="0.55" stroke-width="0.36"/>
<rect x="784.13" y="394.78" width="1.44" height="8.12" fill="#26a69a" fill-opacity="0.42" stroke="#26a69a" stroke-opacity="0.55" stroke-width="0.36"/>
</g>
<rect x="301.0" y="24.5" width="1.0" height="443.90" fill="#9a9a9a"/>
<rect x="699.0" y="24.5" width="1.0" height="443.90" fill="#9a9a9a"/>
<rect x="764.0" y="24.5" width="2.0" height="443.90" fill="#555555"/>
<g>
<line x1="131.00" y1="49.00" x2="131.00" y2="251.00" stroke="#ef5350" stroke-width="0.9" stroke-opacity="0.72"/>
<rect x="130.00" y="49.00" width="2" height="197.50" fill="#ef5350"/>
<line x1="132.82" y1="244.00" x2="132.82" y2="256.40" stroke="#ef5350" stroke-width="0.9" stroke-opacity="0.72"/>
<rect x="131.82" y="246.00" width="2" height="6.00" fill="#ef5350"/>
<line x1="135.34" y1="216.80" x2="135.34" y2="252.50" stroke="#26a69a" stroke-width="0.9" stroke-opacity="0.72"/>
<rect x="134.34" y="241.60" width="2" height="8.90" fill="#26a69a"/>
<line x1="137.85" y1="221.80" x2="137.85" y2="243.00" stroke="#26a69a" stroke-width="0.9" stroke-opacity="0.72"/>
<rect x="136.85" y="226.70" width="2" height="15.90" fill="#26a69a"/>
<line x1="140.37" y1="212.90" x2="140.37" y2="239.50" stroke="#ef5350" stroke-width="0.9" stroke-opacity="0.72"/>
<rect x="139.37" y="226.70" width="2" height="11.90" fill="#ef5350"/>
<line x1="142.89" y1="232.30" x2="142.89" y2="248.60" stroke="#ef5350" stroke-width="0.9" stroke-opacity="0.72"/>
<rect x="141.89" y="234.00" width="2" height="14.00" fill="#ef5350"/>
<line x1="145.41" y1="241.70" x2="145.41" y2="270.00" stroke="#ef5350" stroke-width="0.9" stroke-opacity="0.72"/>
<rect x="144.41" y="247.40" width="2" height="17.90" fill="#ef5350"/>
<line x1="147.92" y1="260.40" x2="147.92" y2="270.30" stroke="#ef5350" stroke-width="0.9" stroke-opacity="0.72"/>
<rect x="146.92" y="263.40" width="2" height="3.90" fill="#ef5350"/>
<line x1="150.44" y1="253.90" x2="150.44" y2="268.00" stroke="#26a69a" stroke-width="0.9" stroke-opacity="0.72"/>
<rect x="149.44" y="259.40" width="2" height="7.90" fill="#26a69a"/>
<line x1="152.96" y1="257.80" x2="152.96" y2="265.30" stroke="#26a69a" stroke-width="0.9" stroke-opacity="0.72"/>
<rect x="151.96" y="259.00" width="2" height="5.40" fill="#26a69a"/>
<line x1="155.48" y1="258.50" x2="155.48" y2="264.00" stroke="#26a69a" stroke-width="0.9" stroke-opacity="0.72"/>
<rect x="154.48" y="259.40" width="2" height="3.60" fill="#26a69a"/>
<line x1="157.99" y1="258.00" x2="157.99" y2="264.00" stroke="#ef5350" stroke-width="0.9" stroke-opacity="0.72"/>
<rect x="156.99" y="259.00" width="2" height="4.40" fill="#ef5350"/>
<line x1="160.51" y1="255.00" x2="160.51" y2="265.00" stroke="#26a69a" stroke-width="0.9" stroke-opacity="0.72"/>
<rect x="159.51" y="260.40" width="2" height="4.00" fill="#26a69a"/>
<line x1="163.03" y1="260.50" x2="163.03" y2="265.50" stroke="#ef5350" stroke-width="0.9" stroke-opacity="0.72"/>
<rect x="162.03" y="261.40" width="2" height="3.00" fill="#ef5350"/>
<line x1="165.55" y1="262.50" x2="165.55" y2="267.70" stroke="#ef5350" stroke-width="0.9" stroke-opacity="0.72"/>
<rect x="164.55" y="263.40" width="2" height="2.90" fill="#ef5350"/>
<line x1="168.06" y1="263.05" x2="168.06" y2="266.00" stroke="#26a69a" stroke-width="0.9" stroke-opacity="0.72"/>
<rect x="167.06" y="263.61" width="2" height="1.61" fill="#26a69a"/>
<line x1="170.58" y1="263.28" x2="170.58" y2="265.94" stroke="#ef5350" stroke-width="0.9" stroke-opacity="0.72"/>
<rect x="169.58" y="263.99" width="2" height="1.46" fill="#ef5350"/>
<line x1="173.10" y1="263.59" x2="173.10" y2="266.08" stroke="#ef5350" stroke-width="0.9" stroke-opacity="0.72"/>
<rect x="172.10" y="264.29" width="2" height="1.51" fill="#ef5350"/>
<line x1="175.62" y1="264.40" x2="175.62" y2="268.12" stroke="#ef5350" stroke-width="0.9" stroke-opacity="0.72"/>
<rect x="174.62" y="264.86" width="2" height="2.90" fill="#ef5350"/>
<line x1="178.13" y1="264.81" x2="178.13" y2="269.53" stroke="#26a69a" stroke-width="0.9" stroke-opacity="0.72"/>
<rect x="177.13" y="266.02" width="2" height="3.05" fill="#26a69a"/>
<line x1="180.65" y1="266.09" x2="180.65" y2="270.32" stroke="#26a69a" stroke-width="0.9" stroke-opacity="0.72"/>
<rect x="179.65" y="267.09" width="2" height="2.22" fill="#26a69a"/>
<line x1="183.17" y1="263.77" x2="183.17" y2="269.44" stroke="#26a69a" stroke-width="0.9" stroke-opacity="0.72"/>
<rect x="182.17" y="264.68" width="2" height="3.69" fill="#26a69a"/>
<line x1="185.69" y1="264.95" x2="185.69" y2="268.76" stroke="#ef5350" stroke-width="0.9" stroke-opacity="0.72"/>
<rect x="184.69" y="266.14" width="2" height="2.07" fill="#ef5350"/>
<line x1="188.20" y1="266.65" x2="188.20" y2="270.60" stroke="#ef5350" stroke-width="0.9" stroke-opacity="0.72"/>
<rect x="187.20" y="267.18" width="2" height="2.88" fill="#ef5350"/>
<line x1="190.72" y1="267.57" x2="190.72" y2="272.24" stroke="#ef5350" stroke-width="0.9" stroke-opacity="0.72"/>
<rect x="189.72" y="268.19" width="2" height="3.31" fill="#ef5350"/>
<line x1="193.24" y1="268.36" x2="193.24" y2="272.12" stroke="#ef5350" stroke-width="0.9" stroke-opacity="0.72"/>
<rect x="192.24" y="269.11" width="2" height="2.30" fill="#ef5350"/>
<line x1="195.75" y1="268.38" x2="195.75" y2="271.23" stroke="#26a69a" stroke-width="0.9" stroke-opacity="0.72"/>
<rect x="194.75" y="268.91" width="2" height="1.84" fill="#26a69a"/>
<line x1="198.27" y1="268.93" x2="198.27" y2="273.91" stroke="#ef5350" stroke-width="0.9" stroke-opacity="0.72"/>
<rect x="197.27" y="269.72" width="2" height="3.64" fill="#ef5350"/>
<line x1="200.79" y1="270.90" x2="200.79" y2="276.71" stroke="#ef5350" stroke-width="0.9" stroke-opacity="0.72"/>
<rect x="199.79" y="271.79" width="2" height="4.35" fill="#ef5350"/>
<line x1="203.31" y1="272.80" x2="203.31" y2="277.74" stroke="#26a69a" stroke-width="0.9" stroke-opacity="0.72"/>
<rect x="202.31" y="273.75" width="2" height="3.52" fill="#26a69a"/>
<line x1="205.83" y1="274.48" x2="205.83" y2="279.24" stroke="#ef5350" stroke-width="0.9" stroke-opacity="0.72"/>
<rect x="204.83" y="275.29" width="2" height="3.05" fill="#ef5350"/>
<line x1="208.34" y1="276.09" x2="208.34" y2="281.61" stroke="#ef5350" stroke-width="0.9" stroke-opacity="0.72"/>
<rect x="207.34" y="276.76" width="2" height="3.84" fill="#ef5350"/>
<line x1="210.86" y1="278.25" x2="210.86" y2="283.22" stroke="#ef5350" stroke-width="0.9" stroke-opacity="0.72"/>
<rect x="209.86" y="279.00" width="2" height="3.38" fill="#ef5350"/>
<line x1="213.38" y1="278.50" x2="213.38" y2="281.64" stroke="#26a69a" stroke-width="0.9" stroke-opacity="0.72"/>
<rect x="212.38" y="279.39" width="2" height="1.88" fill="#26a69a"/>
<line x1="215.90" y1="274.60" x2="215.90" y2="282.40" stroke="#26a69a" stroke-width="0.9" stroke-opacity="0.72"/>
<rect x="214.90" y="275.80" width="2" height="5.80" fill="#26a69a"/>
<line x1="218.41" y1="275.80" x2="218.41" y2="287.30" stroke="#ef5350" stroke-width="0.9" stroke-opacity="0.72"/>
<rect x="217.41" y="277.20" width="2" height="9.30" fill="#ef5350"/>
<line x1="220.93" y1="280.28" x2="220.93" y2="287.01" stroke="#26a69a" stroke-width="0.9" stroke-opacity="0.72"/>
<rect x="219.93" y="281.36" width="2" height="4.91" fill="#26a69a"/>
<line x1="223.45" y1="279.20" x2="223.45" y2="286.60" stroke="#26a69a" stroke-width="0.9" stroke-opacity="0.72"/>
<rect x="222.45" y="280.20" width="2" height="5.60" fill="#26a69a"/>
<line x1="225.97" y1="280.60" x2="225.97" y2="287.20" stroke="#ef5350" stroke-width="0.9" stroke-opacity="0.72"/>
<rect x="224.97" y="281.60" width="2" height="4.90" fill="#ef5350"/>
<line x1="228.48" y1="282.20" x2="228.48" y2="288.30" stroke="#26a69a" stroke-width="0.9" stroke-opacity="0.72"/>
<rect x="227.48" y="283.00" width="2" height="4.20" fill="#26a69a"/>
<line x1="231.00" y1="277.00" x2="231.00" y2="285.20" stroke="#26a69a" stroke-width="0.9" stroke-opacity="0.72"/>
<rect x="230.00" y="278.10" width="2" height="6.30" fill="#26a69a"/>
<line x1="233.52" y1="278.50" x2="233.52" y2="284.60" stroke="#ef5350" stroke-width="0.9" stroke-opacity="0.72"/>
<rect x="232.52" y="279.50" width="2" height="4.20" fill="#ef5350"/>
<line x1="236.04" y1="280.60" x2="236.04" y2="285.79" stroke="#ef5350" stroke-width="0.9" stroke-opacity="0.72"/>
<rect x="235.04" y="281.32" width="2" height="3.65" fill="#ef5350"/>
<line x1="238.55" y1="281.38" x2="238.55" y2="285.86" stroke="#26a69a" stroke-width="0.9" stroke-opacity="0.72"/>
<rect x="237.55" y="282.45" width="2" height="2.69" fill="#26a69a"/>
<line x1="241.07" y1="281.31" x2="241.07" y2="285.50" stroke="#ef5350" stroke-width="0.9" stroke-opacity="0.72"/>
<rect x="240.07" y="282.58" width="2" height="2.24" fill="#ef5350"/>
<line x1="243.59" y1="281.32" x2="243.59" y2="285.01" stroke="#ef5350" stroke-width="0.9" stroke-opacity="0.72"/>
<rect x="242.59" y="281.73" width="2" height="2.51" fill="#ef5350"/>
<line x1="246.11" y1="278.94" x2="246.11" y2="284.96" stroke="#26a69a" stroke-width="0.9" stroke-opacity="0.72"/>
<rect x="245.11" y="280.64" width="2" height="3.20" fill="#26a69a"/>
<line x1="248.62" y1="278.02" x2="248.62" y2="283.34" stroke="#26a69a" stroke-width="0.9" stroke-opacity="0.72"/>
<rect x="247.62" y="279.03" width="2" height="3.39" fill="#26a69a"/>
<line x1="251.14" y1="273.80" x2="251.14" y2="281.80" stroke="#26a69a" stroke-width="0.9" stroke-opacity="0.72"/>
<rect x="250.14" y="275.40" width="2" height="5.60" fill="#26a69a"/>
<line x1="253.66" y1="273.60" x2="253.66" y2="280.60" stroke="#ef5350" stroke-width="0.9" stroke-opacity="0.72"/>
<rect x="252.66" y="274.70" width="2" height="4.80" fill="#ef5350"/>
<line x1="256.18" y1="276.48" x2="256.18" y2="281.44" stroke="#26a69a" stroke-width="0.9" stroke-opacity="0.72"/>
<rect x="255.18" y="277.46" width="2" height="3.46" fill="#26a69a"/>
<line x1="258.69" y1="277.95" x2="258.69" y2="282.49" stroke="#ef5350" stroke-width="0.9" stroke-opacity="0.72"/>
<rect x="257.69" y="278.75" width="2" height="2.73" fill="#ef5350"/>
<line x1="261.21" y1="278.50" x2="261.21" y2="281.62" stroke="#ef5350" stroke-width="0.9" stroke-opacity="0.72"/>
<rect x="260.21" y="279.31" width="2" height="1.64" fill="#ef5350"/>
<line x1="263.73" y1="278.37" x2="263.73" y2="281.82" stroke="#26a69a" stroke-width="0.9" stroke-opacity="0.72"/>
<rect x="262.73" y="278.93" width="2" height="2.23" fill="#26a69a"/>
<line x1="266.25" y1="277.97" x2="266.25" y2="282.30" stroke="#ef5350" stroke-width="0.9" stroke-opacity="0.72"/>
<rect x="265.25" y="279.21" width="2" height="2.15" fill="#ef5350"/>
<line x1="268.76" y1="278.92" x2="268.76" y2="282.76" stroke="#ef5350" stroke-width="0.9" stroke-opacity="0.72"/>
<rect x="267.76" y="279.55" width="2" height="2.61" fill="#ef5350"/>
<line x1="271.28" y1="279.25" x2="271.28" y2="283.48" stroke="#26a69a" stroke-width="0.9" stroke-opacity="0.72"/>
<rect x="270.28" y="280.36" width="2" height="2.15" fill="#26a69a"/>
<line x1="273.80" y1="280.93" x2="273.80" y2="284.19" stroke="#ef5350" stroke-width="0.9" stroke-opacity="0.72"/>
<rect x="272.80" y="281.38" width="2" height="2.40" fill="#ef5350"/>
<line x1="276.32" y1="281.74" x2="276.32" y2="286.07" stroke="#ef5350" stroke-width="0.9" stroke-opacity="0.72"/>
<rect x="275.32" y="282.53" width="2" height="2.83" fill="#ef5350"/>
<line x1="278.83" y1="282.95" x2="278.83" y2="285.16" stroke="#26a69a" stroke-width="0.9" stroke-opacity="0.72"/>
<rect x="277.83" y="283.25" width="2" height="1.37" fill="#26a69a"/>
<line x1="281.35" y1="282.21" x2="281.35" y2="285.46" stroke="#26a69a" stroke-width="0.9" stroke-opacity="0.72"/>
<rect x="280.35" y="282.94" width="2" height="1.62" fill="#26a69a"/>
<line x1="283.87" y1="282.26" x2="283.87" y2="285.84" stroke="#ef5350" stroke-width="0.9" stroke-opacity="0.72"/>
<rect x="282.87" y="283.01" width="2" height="2.12" fill="#ef5350"/>
<line x1="286.38" y1="282.95" x2="286.38" y2="286.69" stroke="#ef5350" stroke-width="0.9" stroke-opacity="0.72"/>
<rect x="285.38" y="283.40" width="2" height="2.36" fill="#ef5350"/>
<line x1="288.90" y1="282.99" x2="288.90" y2="287.94" stroke="#26a69a" stroke-width="0.9" stroke-opacity="0.72"/>
<rect x="287.90" y="284.10" width="2" height="2.97" fill="#26a69a"/>
<line x1="291.42" y1="284.54" x2="291.42" y2="288.60" stroke="#ef5350" stroke-width="0.9" stroke-opacity="0.72"/>
<rect x="290.42" y="285.33" width="2" height="2.86" fill="#ef5350"/>
<line x1="293.94" y1="286.91" x2="293.94" y2="292.83" stroke="#ef5350" stroke-width="0.9" stroke-opacity="0.72"/>
<rect x="292.94" y="287.41" width="2" height="5.05" fill="#ef5350"/>
<line x1="296.46" y1="289.85" x2="296.46" y2="294.32" stroke="#ef5350" stroke-width="0.9" stroke-opacity="0.72"/>
<rect x="295.46" y="290.32" width="2" height="3.49" fill="#ef5350"/>
<line x1="298.97" y1="291.70" x2="298.97" y2="295.08" stroke="#ef5350" stroke-width="0.9" stroke-opacity="0.72"/>
<rect x="297.97" y="292.09" width="2" height="2.60" fill="#ef5350"/>
<line x1="301.49" y1="291.50" x2="301.49" y2="296.50" stroke="#26a69a" stroke-width="0.9" stroke-opacity="0.72"/>
<rect x="300.49" y="292.50" width="2" height="2.00" fill="#26a69a"/>
<line x1="304.01" y1="281.60" x2="304.01" y2="294.50" stroke="#26a69a" stroke-width="0.9" stroke-opacity="0.72"/>
<rect x="303.01" y="285.40" width="2" height="8.30" fill="#26a69a"/>
<line x1="306.52" y1="281.20" x2="306.52" y2="288.50" stroke="#ef5350" stroke-width="0.9" stroke-opacity="0.72"/>
<rect x="305.52" y="283.30" width="2" height="4.10" fill="#ef5350"/>
<line x1="309.04" y1="283.61" x2="309.04" y2="287.30" stroke="#ef5350" stroke-width="0.9" stroke-opacity="0.72"/>
<rect x="308.04" y="284.64" width="2" height="2.18" fill="#ef5350"/>
<line x1="311.56" y1="283.53" x2="311.56" y2="287.79" stroke="#26a69a" stroke-width="0.9" stroke-opacity="0.72"/>
<rect x="310.56" y="284.67" width="2" height="2.59" fill="#26a69a"/>
<line x1="314.08" y1="284.33" x2="314.08" y2="287.21" stroke="#ef5350" stroke-width="0.9" stroke-opacity="0.72"/>
<rect x="313.08" y="285.02" width="2" height="1.63" fill="#ef5350"/>
<line x1="316.60" y1="284.73" x2="316.60" y2="289.47" stroke="#ef5350" stroke-width="0.9" stroke-opacity="0.72"/>
<rect x="315.60" y="285.81" width="2" height="2.67" fill="#ef5350"/>
<line x1="319.11" y1="286.15" x2="319.11" y2="291.03" stroke="#ef5350" stroke-width="0.9" stroke-opacity="0.72"/>
<rect x="318.11" y="287.07" width="2" height="3.53" fill="#ef5350"/>
<line x1="321.63" y1="287.81" x2="321.63" y2="291.99" stroke="#26a69a" stroke-width="0.9" stroke-opacity="0.72"/>
<rect x="320.63" y="288.66" width="2" height="2.76" fill="#26a69a"/>
<line x1="324.15" y1="278.40" x2="324.15" y2="292.23" stroke="#26a69a" stroke-width="0.9" stroke-opacity="0.72"/>
<rect x="323.15" y="286.09" width="2" height="5.13" fill="#26a69a"/>
<line x1="326.67" y1="284.42" x2="326.67" y2="290.02" stroke="#ef5350" stroke-width="0.9" stroke-opacity="0.72"/>
<rect x="325.67" y="285.66" width="2" height="3.75" fill="#ef5350"/>
<line x1="329.18" y1="284.64" x2="329.18" y2="289.04" stroke="#26a69a" stroke-width="0.9" stroke-opacity="0.72"/>
<rect x="328.18" y="285.36" width="2" height="2.86" fill="#26a69a"/>
<line x1="331.70" y1="283.73" x2="331.70" y2="288.59" stroke="#ef5350" stroke-width="0.9" stroke-opacity="0.72"/>
<rect x="330.70" y="284.97" width="2" height="2.76" fill="#ef5350"/>
<line x1="334.22" y1="282.19" x2="334.22" y2="287.29" stroke="#26a69a" stroke-width="0.9" stroke-opacity="0.72"/>
<rect x="333.22" y="283.30" width="2" height="3.37" fill="#26a69a"/>
<line x1="336.74" y1="278.90" x2="336.74" y2="286.00" stroke="#26a69a" stroke-width="0.9" stroke-opacity="0.72"/>
<rect x="335.74" y="279.80" width="2" height="5.60" fill="#26a69a"/>
<line x1="339.25" y1="281.00" x2="339.25" y2="289.50" stroke="#ef5350" stroke-width="0.9" stroke-opacity="0.72"/>
<rect x="338.25" y="281.90" width="2" height="6.90" fill="#ef5350"/>
<line x1="341.77" y1="284.11" x2="341.77" y2="289.94" stroke="#26a69a" stroke-width="0.9" stroke-opacity="0.72"/>
<rect x="340.77" y="284.88" width="2" height="4.24" fill="#26a69a"/>
<line x1="344.29" y1="286.00" x2="344.29" y2="289.69" stroke="#ef5350" stroke-width="0.9" stroke-opacity="0.72"/>
<rect x="343.29" y="286.58" width="2" height="2.25" fill="#ef5350"/>
<line x1="346.81" y1="285.47" x2="346.81" y2="289.69" stroke="#26a69a" stroke-width="0.9" stroke-opacity="0.72"/>
<rect x="345.81" y="286.60" width="2" height="2.20" fill="#26a69a"/>
<line x1="349.32" y1="285.97" x2="349.32" y2="290.46" stroke="#ef5350" stroke-width="0.9" stroke-opacity="0.72"/>
<rect x="348.32" y="287.05" width="2" height="2.90" fill="#ef5350"/>
<line x1="351.84" y1="287.72" x2="351.84" y2="291.61" stroke="#26a69a" stroke-width="0.9" stroke-opacity="0.72"/>
<rect x="350.84" y="288.35" width="2" height="2.97" fill="#26a69a"/>
<line x1="354.36" y1="289.11" x2="354.36" y2="292.22" stroke="#ef5350" stroke-width="0.9" stroke-opacity="0.72"/>
<rect x="353.36" y="289.68" width="2" height="2.09" fill="#ef5350"/>
<line x1="356.88" y1="289.55" x2="356.88" y2="295.07" stroke="#ef5350" stroke-width="0.9" stroke-opacity="0.72"/>
<rect x="355.88" y="290.72" width="2" height="3.74" fill="#ef5350"/>
<line x1="359.39" y1="288.83" x2="359.39" y2="294.11" stroke="#26a69a" stroke-width="0.9" stroke-opacity="0.72"/>
<rect x="358.39" y="290.03" width="2" height="3.11" fill="#26a69a"/>
<line x1="361.91" y1="289.21" x2="361.91" y2="292.51" stroke="#ef5350" stroke-width="0.9" stroke-opacity="0.72"/>
<rect x="360.91" y="289.79" width="2" height="2.25" fill="#ef5350"/>
<line x1="364.43" y1="289.06" x2="364.43" y2="292.15" stroke="#26a69a" stroke-width="0.9" stroke-opacity="0.72"/>
<rect x="363.43" y="289.60" width="2" height="1.81" fill="#26a69a"/>
<line x1="366.95" y1="288.46" x2="366.95" y2="292.13" stroke="#26a69a" stroke-width="0.9" stroke-opacity="0.72"/>
<rect x="365.95" y="289.49" width="2" height="2.02" fill="#26a69a"/>
<line x1="369.46" y1="288.39" x2="369.46" y2="291.88" stroke="#ef5350" stroke-width="0.9" stroke-opacity="0.72"/>
<rect x="368.46" y="289.52" width="2" height="1.95" fill="#ef5350"/>
<line x1="371.98" y1="288.75" x2="371.98" y2="292.80" stroke="#ef5350" stroke-width="0.9" stroke-opacity="0.72"/>
<rect x="370.98" y="289.81" width="2" height="2.17" fill="#ef5350"/>
<line x1="374.50" y1="289.31" x2="374.50" y2="293.01" stroke="#26a69a" stroke-width="0.9" stroke-opacity="0.72"/>
<rect x="373.50" y="290.14" width="2" height="2.43" fill="#26a69a"/>
<line x1="377.01" y1="290.02" x2="377.01" y2="293.43" stroke="#ef5350" stroke-width="0.9" stroke-opacity="0.72"/>
<rect x="376.01" y="290.57" width="2" height="2.06" fill="#ef5350"/>
<line x1="379.53" y1="290.08" x2="379.53" y2="293.53" stroke="#ef5350" stroke-width="0.9" stroke-opacity="0.72"/>
<rect x="378.53" y="290.72" width="2" height="2.28" fill="#ef5350"/>
<line x1="382.05" y1="289.42" x2="382.05" y2="293.19" stroke="#26a69a" stroke-width="0.9" stroke-opacity="0.72"/>
<rect x="381.05" y="290.40" width="2" height="2.37" fill="#26a69a"/>
<line x1="384.57" y1="289.97" x2="384.57" y2="292.90" stroke="#26a69a" stroke-width="0.9" stroke-opacity="0.72"/>
<rect x="383.57" y="290.39" width="2" height="1.62" fill="#26a69a"/>
<line x1="387.09" y1="289.83" x2="387.09" y2="293.11" stroke="#ef5350" stroke-width="0.9" stroke-opacity="0.72"/>
<rect x="386.09" y="290.29" width="2" height="1.97" fill="#ef5350"/>
<line x1="389.60" y1="289.82" x2="389.60" y2="294.54" stroke="#ef5350" stroke-width="0.9" stroke-opacity="0.72"/>
<rect x="388.60" y="290.75" width="2" height="3.24" fill="#ef5350"/>
<line x1="392.12" y1="291.58" x2="392.12" y2="294.96" stroke="#ef5350" stroke-width="0.9" stroke-opacity="0.72"/>
<rect x="391.12" y="292.03" width="2" height="2.66" fill="#ef5350"/>
<line x1="394.64" y1="291.60" x2="394.64" y2="295.16" stroke="#26a69a" stroke-width="0.9" stroke-opacity="0.72"/>
<rect x="393.64" y="292.42" width="2" height="2.12" fill="#26a69a"/>
<line x1="397.16" y1="291.77" x2="397.16" y2="296.01" stroke="#ef5350" stroke-width="0.9" stroke-opacity="0.72"/>
<rect x="396.16" y="292.57" width="2" height="2.50" fill="#ef5350"/>
<line x1="399.67" y1="292.32" x2="399.67" y2="295.48" stroke="#26a69a" stroke-width="0.9" stroke-opacity="0.72"/>
<rect x="398.67" y="292.89" width="2" height="2.11" fill="#26a69a"/>
<line x1="402.19" y1="291.94" x2="402.19" y2="294.99" stroke="#ef5350" stroke-width="0.9" stroke-opacity="0.72"/>
<rect x="401.19" y="292.41" width="2" height="1.93" fill="#ef5350"/>
<line x1="404.71" y1="291.58" x2="404.71" y2="294.24" stroke="#26a69a" stroke-width="0.9" stroke-opacity="0.72"/>
<rect x="403.71" y="292.22" width="2" height="1.68" fill="#26a69a"/>
<line x1="407.23" y1="290.91" x2="407.23" y2="294.51" stroke="#26a69a" stroke-width="0.9" stroke-opacity="0.72"/>
<rect x="406.23" y="291.56" width="2" height="2.35" fill="#26a69a"/>
<line x1="409.74" y1="290.92" x2="409.74" y2="294.85" stroke="#ef5350" stroke-width="0.9" stroke-opacity="0.72"/>
<rect x="408.74" y="292.05" width="2" height="2.20" fill="#ef5350"/>
<line x1="412.26" y1="291.61" x2="412.26" y2="295.58" stroke="#ef5350" stroke-width="0.9" stroke-opacity="0.72"/>
<rect x="411.26" y="292.38" width="2" height="2.54" fill="#ef5350"/>
<line x1="414.78" y1="291.56" x2="414.78" y2="294.92" stroke="#26a69a" stroke-width="0.9" stroke-opacity="0.72"/>
<rect x="413.78" y="292.02" width="2" height="2.27" fill="#26a69a"/>
<line x1="417.30" y1="291.80" x2="417.30" y2="294.73" stroke="#26a69a" stroke-width="0.9" stroke-opacity="0.72"/>
<rect x="416.30" y="292.26" width="2" height="1.58" fill="#26a69a"/>
<line x1="419.81" y1="291.72" x2="419.81" y2="294.38" stroke="#ef5350" stroke-width="0.9" stroke-opacity="0.72"/>
<rect x="418.81" y="292.36" width="2" height="1.28" fill="#ef5350"/>
<line x1="422.33" y1="289.20" x2="422.33" y2="294.24" stroke="#26a69a" stroke-width="0.9" stroke-opacity="0.72"/>
<rect x="421.33" y="291.65" width="2" height="1.98" fill="#26a69a"/>
<line x1="424.85" y1="289.94" x2="424.85" y2="293.87" stroke="#ef5350" stroke-width="0.9" stroke-opacity="0.72"/>
<rect x="423.85" y="291.11" width="2" height="2.31" fill="#ef5350"/>
<line x1="427.37" y1="289.60" x2="427.37" y2="294.30" stroke="#26a69a" stroke-width="0.9" stroke-opacity="0.72"/>
<rect x="426.37" y="290.20" width="2" height="3.50" fill="#26a69a"/>
<line x1="429.88" y1="283.00" x2="429.88" y2="293.30" stroke="#ef5350" stroke-width="0.9" stroke-opacity="0.72"/>
<rect x="428.88" y="290.50" width="2" height="2.10" fill="#ef5350"/>
<line x1="432.40" y1="289.92" x2="432.40" y2="293.39" stroke="#26a69a" stroke-width="0.9" stroke-opacity="0.72"/>
<rect x="431.40" y="290.66" width="2" height="2.15" fill="#26a69a"/>
<line x1="434.92" y1="290.04" x2="434.92" y2="293.68" stroke="#ef5350" stroke-width="0.9" stroke-opacity="0.72"/>
<rect x="433.92" y="290.85" width="2" height="2.13" fill="#ef5350"/>
<line x1="437.44" y1="289.68" x2="437.44" y2="293.67" stroke="#ef5350" stroke-width="0.9" stroke-opacity="0.72"/>
<rect x="436.44" y="290.91" width="2" height="2.10" fill="#ef5350"/>
<line x1="439.95" y1="290.01" x2="439.95" y2="293.76" stroke="#ef5350" stroke-width="0.9" stroke-opacity="0.72"/>
<rect x="438.95" y="290.98" width="2" height="2.05" fill="#ef5350"/>
<line x1="442.47" y1="290.64" x2="442.47" y2="294.02" stroke="#ef5350" stroke-width="0.9" stroke-opacity="0.72"/>
<rect x="441.47" y="291.30" width="2" height="2.10" fill="#ef5350"/>
<line x1="444.99" y1="290.66" x2="444.99" y2="294.41" stroke="#26a69a" stroke-width="0.9" stroke-opacity="0.72"/>
<rect x="443.99" y="291.73" width="2" height="1.93" fill="#26a69a"/>
<line x1="447.50" y1="288.89" x2="447.50" y2="293.79" stroke="#26a69a" stroke-width="0.9" stroke-opacity="0.72"/>
<rect x="446.50" y="290.13" width="2" height="3.14" fill="#26a69a"/>
<line x1="450.02" y1="289.69" x2="450.02" y2="294.02" stroke="#ef5350" stroke-width="0.9" stroke-opacity="0.72"/>
<rect x="449.02" y="290.93" width="2" height="2.16" fill="#ef5350"/>
<line x1="452.54" y1="291.27" x2="452.54" y2="294.54" stroke="#ef5350" stroke-width="0.9" stroke-opacity="0.72"/>
<rect x="451.54" y="291.75" width="2" height="2.19" fill="#ef5350"/>
<line x1="455.06" y1="288.80" x2="455.06" y2="294.30" stroke="#26a69a" stroke-width="0.9" stroke-opacity="0.72"/>
<rect x="454.06" y="289.50" width="2" height="4.20" fill="#26a69a"/>
<line x1="457.58" y1="289.93" x2="457.58" y2="292.54" stroke="#26a69a" stroke-width="0.9" stroke-opacity="0.72"/>
<rect x="456.58" y="290.51" width="2" height="1.69" fill="#26a69a"/>
<line x1="460.09" y1="289.05" x2="460.09" y2="293.10" stroke="#ef5350" stroke-width="0.9" stroke-opacity="0.72"/>
<rect x="459.09" y="290.08" width="2" height="2.09" fill="#ef5350"/>
<line x1="462.61" y1="289.48" x2="462.61" y2="292.71" stroke="#ef5350" stroke-width="0.9" stroke-opacity="0.72"/>
<rect x="461.61" y="290.47" width="2" height="1.48" fill="#ef5350"/>
<line x1="465.13" y1="289.74" x2="465.13" y2="294.20" stroke="#ef5350" stroke-width="0.9" stroke-opacity="0.72"/>
<rect x="464.13" y="290.90" width="2" height="2.29" fill="#ef5350"/>
<line x1="467.65" y1="290.41" x2="467.65" y2="294.88" stroke="#ef5350" stroke-width="0.9" stroke-opacity="0.72"/>
<rect x="466.65" y="291.70" width="2" height="2.54" fill="#ef5350"/>
<line x1="470.16" y1="289.00" x2="470.16" y2="294.30" stroke="#26a69a" stroke-width="0.9" stroke-opacity="0.72"/>
<rect x="469.16" y="289.80" width="2" height="3.90" fill="#26a69a"/>
<line x1="472.68" y1="288.55" x2="472.68" y2="293.13" stroke="#ef5350" stroke-width="0.9" stroke-opacity="0.72"/>
<rect x="471.68" y="289.75" width="2" height="2.49" fill="#ef5350"/>
<line x1="475.20" y1="289.21" x2="475.20" y2="292.37" stroke="#26a69a" stroke-width="0.9" stroke-opacity="0.72"/>
<rect x="474.20" y="290.04" width="2" height="1.63" fill="#26a69a"/>
<line x1="477.72" y1="289.45" x2="477.72" y2="292.13" stroke="#26a69a" stroke-width="0.9" stroke-opacity="0.72"/>
<rect x="476.72" y="290.00" width="2" height="1.61" fill="#26a69a"/>
<line x1="480.23" y1="286.60" x2="480.23" y2="291.50" stroke="#26a69a" stroke-width="0.9" stroke-opacity="0.72"/>
<rect x="479.23" y="287.40" width="2" height="3.50" fill="#26a69a"/>
<line x1="482.75" y1="285.74" x2="482.75" y2="290.62" stroke="#ef5350" stroke-width="0.9" stroke-opacity="0.72"/>
<rect x="481.75" y="286.41" width="2" height="3.39" fill="#ef5350"/>
<line x1="485.27" y1="281.50" x2="485.27" y2="290.30" stroke="#26a69a" stroke-width="0.9" stroke-opacity="0.72"/>
<rect x="484.27" y="282.50" width="2" height="7.00" fill="#26a69a"/>
<line x1="487.79" y1="280.50" x2="487.79" y2="288.00" stroke="#26a69a" stroke-width="0.9" stroke-opacity="0.72"/>
<rect x="486.79" y="282.60" width="2" height="4.80" fill="#26a69a"/>
<line x1="490.30" y1="280.46" x2="490.30" y2="286.82" stroke="#ef5350" stroke-width="0.9" stroke-opacity="0.72"/>
<rect x="489.30" y="281.50" width="2" height="4.80" fill="#ef5350"/>
<line x1="492.82" y1="274.40" x2="492.82" y2="286.80" stroke="#26a69a" stroke-width="0.9" stroke-opacity="0.72"/>
<rect x="491.82" y="277.00" width="2" height="9.00" fill="#26a69a"/>
<line x1="495.34" y1="275.78" x2="495.34" y2="283.36" stroke="#ef5350" stroke-width="0.9" stroke-opacity="0.72"/>
<rect x="494.34" y="277.00" width="2" height="5.40" fill="#ef5350"/>
<line x1="497.86" y1="276.10" x2="497.86" y2="282.00" stroke="#26a69a" stroke-width="0.9" stroke-opacity="0.72"/>
<rect x="496.86" y="277.40" width="2" height="3.20" fill="#26a69a"/>
<line x1="500.37" y1="269.00" x2="500.37" y2="279.56" stroke="#26a69a" stroke-width="0.9" stroke-opacity="0.72"/>
<rect x="499.37" y="276.00" width="2" height="3.00" fill="#26a69a"/>
<line x1="502.89" y1="273.71" x2="502.89" y2="280.91" stroke="#ef5350" stroke-width="0.9" stroke-opacity="0.72"/>
<rect x="501.89" y="275.30" width="2" height="4.40" fill="#ef5350"/>
<line x1="505.41" y1="275.13" x2="505.41" y2="280.29" stroke="#ef5350" stroke-width="0.9" stroke-opacity="0.72"/>
<rect x="504.41" y="276.70" width="2" height="3.00" fill="#ef5350"/>
<line x1="507.93" y1="277.93" x2="507.93" y2="287.40" stroke="#ef5350" stroke-width="0.9" stroke-opacity="0.72"/>
<rect x="506.93" y="278.80" width="2" height="5.40" fill="#ef5350"/>
<line x1="510.44" y1="280.86" x2="510.44" y2="288.60" stroke="#ef5350" stroke-width="0.9" stroke-opacity="0.72"/>
<rect x="509.44" y="281.50" width="2" height="4.80" fill="#ef5350"/>
<line x1="512.96" y1="282.82" x2="512.96" y2="288.44" stroke="#ef5350" stroke-width="0.9" stroke-opacity="0.72"/>
<rect x="511.96" y="284.20" width="2" height="3.50" fill="#ef5350"/>
<line x1="515.48" y1="279.47" x2="515.48" y2="286.88" stroke="#26a69a" stroke-width="0.9" stroke-opacity="0.72"/>
<rect x="514.48" y="280.20" width="2" height="5.80" fill="#26a69a"/>
<line x1="518.00" y1="271.30" x2="518.00" y2="282.82" stroke="#26a69a" stroke-width="0.9" stroke-opacity="0.72"/>
<rect x="517.00" y="277.00" width="2" height="4.50" fill="#26a69a"/>
<line x1="520.51" y1="271.58" x2="520.51" y2="279.53" stroke="#26a69a" stroke-width="0.9" stroke-opacity="0.72"/>
<rect x="519.51" y="273.00" width="2" height="5.80" fill="#26a69a"/>
<line x1="523.03" y1="270.40" x2="523.03" y2="278.63" stroke="#26a69a" stroke-width="0.9" stroke-opacity="0.72"/>
<rect x="522.03" y="272.60" width="2" height="5.40" fill="#26a69a"/>
<line x1="525.55" y1="271.48" x2="525.55" y2="278.41" stroke="#ef5350" stroke-width="0.9" stroke-opacity="0.72"/>
<rect x="524.55" y="273.00" width="2" height="4.40" fill="#ef5350"/>
<line x1="528.07" y1="274.00" x2="528.07" y2="277.98" stroke="#ef5350" stroke-width="0.9" stroke-opacity="0.72"/>
<rect x="527.07" y="275.30" width="2" height="2.10" fill="#ef5350"/>
<line x1="530.58" y1="273.74" x2="530.58" y2="280.82" stroke="#ef5350" stroke-width="0.9" stroke-opacity="0.72"/>
<rect x="529.58" y="274.40" width="2" height="5.30" fill="#ef5350"/>
<line x1="533.10" y1="278.37" x2="533.10" y2="284.77" stroke="#ef5350" stroke-width="0.9" stroke-opacity="0.72"/>
<rect x="532.10" y="279.40" width="2" height="4.80" fill="#ef5350"/>
<line x1="535.62" y1="281.76" x2="535.62" y2="291.30" stroke="#ef5350" stroke-width="0.9" stroke-opacity="0.72"/>
<rect x="534.62" y="283.30" width="2" height="5.30" fill="#ef5350"/>
<line x1="538.13" y1="283.77" x2="538.13" y2="289.82" stroke="#26a69a" stroke-width="0.9" stroke-opacity="0.72"/>
<rect x="537.13" y="285.00" width="2" height="3.60" fill="#26a69a"/>
<line x1="540.65" y1="277.90" x2="540.65" y2="286.18" stroke="#26a69a" stroke-width="0.9" stroke-opacity="0.72"/>
<rect x="539.65" y="281.00" width="2" height="4.60" fill="#26a69a"/>
<line x1="543.17" y1="279.54" x2="543.17" y2="284.76" stroke="#ef5350" stroke-width="0.9" stroke-opacity="0.72"/>
<rect x="542.17" y="281.00" width="2" height="3.20" fill="#ef5350"/>
<line x1="545.69" y1="272.60" x2="545.69" y2="284.58" stroke="#26a69a" stroke-width="0.9" stroke-opacity="0.72"/>
<rect x="544.69" y="276.10" width="2" height="7.20" fill="#26a69a"/>
<line x1="548.21" y1="274.55" x2="548.21" y2="279.61" stroke="#ef5350" stroke-width="0.9" stroke-opacity="0.72"/>
<rect x="547.21" y="275.60" width="2" height="3.20" fill="#ef5350"/>
<line x1="550.72" y1="268.10" x2="550.72" y2="279.50" stroke="#26a69a" stroke-width="0.9" stroke-opacity="0.72"/>
<rect x="549.72" y="270.80" width="2" height="7.70" fill="#26a69a"/>
<line x1="553.24" y1="263.07" x2="553.24" y2="272.74" stroke="#26a69a" stroke-width="0.9" stroke-opacity="0.72"/>
<rect x="552.24" y="264.60" width="2" height="7.40" fill="#26a69a"/>
<line x1="555.76" y1="264.27" x2="555.76" y2="269.47" stroke="#ef5350" stroke-width="0.9" stroke-opacity="0.72"/>
<rect x="554.76" y="265.00" width="2" height="3.50" fill="#ef5350"/>
<line x1="558.28" y1="255.30" x2="558.28" y2="268.81" stroke="#26a69a" stroke-width="0.9" stroke-opacity="0.72"/>
<rect x="557.28" y="259.60" width="2" height="8.50" fill="#26a69a"/>
<line x1="560.79" y1="256.50" x2="560.79" y2="264.30" stroke="#ef5350" stroke-width="0.9" stroke-opacity="0.72"/>
<rect x="559.79" y="259.60" width="2" height="4.10" fill="#ef5350"/>
<line x1="563.31" y1="262.34" x2="563.31" y2="275.85" stroke="#ef5350" stroke-width="0.9" stroke-opacity="0.72"/>
<rect x="562.31" y="263.10" width="2" height="12.20" fill="#ef5350"/>
<line x1="565.83" y1="272.60" x2="565.83" y2="280.60" stroke="#ef5350" stroke-width="0.9" stroke-opacity="0.72"/>
<rect x="564.83" y="274.40" width="2" height="3.60" fill="#ef5350"/>
<line x1="568.35" y1="240.10" x2="568.35" y2="278.68" stroke="#26a69a" stroke-width="0.9" stroke-opacity="0.72"/>
<rect x="567.35" y="245.00" width="2" height="33.00" fill="#26a69a"/>
<line x1="570.86" y1="232.10" x2="570.86" y2="258.30" stroke="#ef5350" stroke-width="0.9" stroke-opacity="0.72"/>
<rect x="569.86" y="245.00" width="2" height="4.40" fill="#ef5350"/>
<line x1="573.38" y1="247.59" x2="573.38" y2="284.50" stroke="#ef5350" stroke-width="0.9" stroke-opacity="0.72"/>
<rect x="572.38" y="248.50" width="2" height="33.00" fill="#ef5350"/>
<line x1="575.90" y1="268.10" x2="575.90" y2="297.50" stroke="#26a69a" stroke-width="0.9" stroke-opacity="0.72"/>
<rect x="574.90" y="276.70" width="2" height="4.80" fill="#26a69a"/>
<line x1="578.41" y1="270.80" x2="578.41" y2="283.47" stroke="#ef5350" stroke-width="0.9" stroke-opacity="0.72"/>
<rect x="577.41" y="276.70" width="2" height="6.00" fill="#ef5350"/>
<line x1="580.93" y1="278.80" x2="580.93" y2="286.18" stroke="#ef5350" stroke-width="0.9" stroke-opacity="0.72"/>
<rect x="579.93" y="281.50" width="2" height="3.50" fill="#ef5350"/>
<line x1="583.45" y1="284.11" x2="583.45" y2="297.00" stroke="#ef5350" stroke-width="0.9" stroke-opacity="0.72"/>
<rect x="582.45" y="285.00" width="2" height="7.20" fill="#ef5350"/>
<line x1="585.97" y1="284.20" x2="585.97" y2="293.15" stroke="#26a69a" stroke-width="0.9" stroke-opacity="0.72"/>
<rect x="584.97" y="288.60" width="2" height="3.60" fill="#26a69a"/>
<line x1="588.49" y1="285.00" x2="588.49" y2="291.06" stroke="#26a69a" stroke-width="0.9" stroke-opacity="0.72"/>
<rect x="587.49" y="286.80" width="2" height="3.60" fill="#26a69a"/>
<line x1="591.00" y1="277.90" x2="591.00" y2="289.41" stroke="#26a69a" stroke-width="0.9" stroke-opacity="0.72"/>
<rect x="590.00" y="279.70" width="2" height="8.90" fill="#26a69a"/>
<line x1="593.52" y1="276.10" x2="593.52" y2="286.00" stroke="#ef5350" stroke-width="0.9" stroke-opacity="0.72"/>
<rect x="592.52" y="280.60" width="2" height="2.70" fill="#ef5350"/>
<line x1="596.04" y1="282.08" x2="596.04" y2="285.73" stroke="#ef5350" stroke-width="0.9" stroke-opacity="0.72"/>
<rect x="595.04" y="282.70" width="2" height="2.30" fill="#ef5350"/>
<line x1="598.56" y1="277.40" x2="598.56" y2="285.01" stroke="#ef5350" stroke-width="0.9" stroke-opacity="0.72"/>
<rect x="597.56" y="282.40" width="2" height="2.10" fill="#ef5350"/>
<line x1="601.07" y1="277.90" x2="601.07" y2="287.16" stroke="#26a69a" stroke-width="0.9" stroke-opacity="0.72"/>
<rect x="600.07" y="279.70" width="2" height="6.30" fill="#26a69a"/>
<line x1="603.59" y1="277.65" x2="603.59" y2="281.27" stroke="#26a69a" stroke-width="0.9" stroke-opacity="0.72"/>
<rect x="602.59" y="278.80" width="2" height="1.80" fill="#26a69a"/>
<line x1="606.11" y1="279.13" x2="606.11" y2="285.14" stroke="#ef5350" stroke-width="0.9" stroke-opacity="0.72"/>
<rect x="605.11" y="280.20" width="2" height="3.60" fill="#ef5350"/>
<line x1="608.62" y1="281.69" x2="608.62" y2="286.24" stroke="#ef5350" stroke-width="0.9" stroke-opacity="0.72"/>
<rect x="607.62" y="282.40" width="2" height="2.60" fill="#ef5350"/>
<line x1="611.14" y1="283.17" x2="611.14" y2="288.65" stroke="#ef5350" stroke-width="0.9" stroke-opacity="0.72"/>
<rect x="610.14" y="284.20" width="2" height="3.50" fill="#ef5350"/>
<line x1="613.66" y1="284.17" x2="613.66" y2="290.40" stroke="#26a69a" stroke-width="0.9" stroke-opacity="0.72"/>
<rect x="612.66" y="285.60" width="2" height="3.00" fill="#26a69a"/>
<line x1="616.18" y1="284.01" x2="616.18" y2="290.46" stroke="#ef5350" stroke-width="0.9" stroke-opacity="0.72"/>
<rect x="615.18" y="285.00" width="2" height="4.50" fill="#ef5350"/>
<line x1="618.70" y1="284.71" x2="618.70" y2="290.88" stroke="#26a69a" stroke-width="0.9" stroke-opacity="0.72"/>
<rect x="617.70" y="286.00" width="2" height="3.50" fill="#26a69a"/>
<line x1="621.21" y1="285.36" x2="621.21" y2="288.95" stroke="#26a69a" stroke-width="0.9" stroke-opacity="0.72"/>
<rect x="620.21" y="286.30" width="2" height="1.40" fill="#26a69a"/>
<line x1="623.73" y1="284.99" x2="623.73" y2="289.17" stroke="#ef5350" stroke-width="0.9" stroke-opacity="0.72"/>
<rect x="622.73" y="286.30" width="2" height="1.80" fill="#ef5350"/>
<line x1="626.25" y1="282.30" x2="626.25" y2="288.21" stroke="#26a69a" stroke-width="0.9" stroke-opacity="0.72"/>
<rect x="625.25" y="283.30" width="2" height="4.10" fill="#26a69a"/>
<line x1="628.77" y1="279.70" x2="628.77" y2="285.05" stroke="#26a69a" stroke-width="0.9" stroke-opacity="0.72"/>
<rect x="627.77" y="282.00" width="2" height="2.50" fill="#26a69a"/>
<line x1="631.28" y1="281.27" x2="631.28" y2="284.36" stroke="#ef5350" stroke-width="0.9" stroke-opacity="0.72"/>
<rect x="630.28" y="282.00" width="2" height="1.80" fill="#ef5350"/>
<line x1="633.80" y1="281.96" x2="633.80" y2="286.33" stroke="#ef5350" stroke-width="0.9" stroke-opacity="0.72"/>
<rect x="632.80" y="283.30" width="2" height="2.30" fill="#ef5350"/>
<line x1="636.32" y1="280.74" x2="636.32" y2="285.58" stroke="#26a69a" stroke-width="0.9" stroke-opacity="0.72"/>
<rect x="635.32" y="281.50" width="2" height="3.50" fill="#26a69a"/>
<line x1="638.84" y1="279.16" x2="638.84" y2="283.98" stroke="#ef5350" stroke-width="0.9" stroke-opacity="0.72"/>
<rect x="637.84" y="280.60" width="2" height="2.10" fill="#ef5350"/>
<line x1="641.35" y1="278.43" x2="641.35" y2="283.45" stroke="#26a69a" stroke-width="0.9" stroke-opacity="0.72"/>
<rect x="640.35" y="279.70" width="2" height="3.00" fill="#26a69a"/>
<line x1="643.87" y1="273.10" x2="643.87" y2="282.22" stroke="#26a69a" stroke-width="0.9" stroke-opacity="0.72"/>
<rect x="642.87" y="276.10" width="2" height="5.40" fill="#26a69a"/>
<line x1="646.39" y1="275.21" x2="646.39" y2="282.00" stroke="#ef5350" stroke-width="0.9" stroke-opacity="0.72"/>
<rect x="645.39" y="276.10" width="2" height="3.60" fill="#ef5350"/>
<line x1="648.90" y1="267.44" x2="648.90" y2="279.44" stroke="#26a69a" stroke-width="0.9" stroke-opacity="0.72"/>
<rect x="647.90" y="268.50" width="2" height="10.30" fill="#26a69a"/>
<line x1="651.42" y1="260.10" x2="651.42" y2="270.90" stroke="#26a69a" stroke-width="0.9" stroke-opacity="0.72"/>
<rect x="650.42" y="263.70" width="2" height="6.30" fill="#26a69a"/>
<line x1="653.94" y1="263.74" x2="653.94" y2="270.80" stroke="#ef5350" stroke-width="0.9" stroke-opacity="0.72"/>
<rect x="652.94" y="264.60" width="2" height="3.50" fill="#ef5350"/>
<line x1="656.46" y1="253.50" x2="656.46" y2="266.87" stroke="#26a69a" stroke-width="0.9" stroke-opacity="0.72"/>
<rect x="655.46" y="257.40" width="2" height="8.10" fill="#26a69a"/>
<line x1="658.98" y1="254.80" x2="658.98" y2="265.98" stroke="#ef5350" stroke-width="0.9" stroke-opacity="0.72"/>
<rect x="657.98" y="257.40" width="2" height="7.20" fill="#ef5350"/>
<line x1="661.49" y1="258.45" x2="661.49" y2="266.22" stroke="#26a69a" stroke-width="0.9" stroke-opacity="0.72"/>
<rect x="660.49" y="259.60" width="2" height="5.90" fill="#26a69a"/>
<line x1="664.01" y1="258.53" x2="664.01" y2="263.18" stroke="#ef5350" stroke-width="0.9" stroke-opacity="0.72"/>
<rect x="663.01" y="260.10" width="2" height="2.30" fill="#ef5350"/>
<line x1="666.53" y1="260.04" x2="666.53" y2="264.20" stroke="#26a69a" stroke-width="0.9" stroke-opacity="0.72"/>
<rect x="665.53" y="261.00" width="2" height="2.70" fill="#26a69a"/>
<line x1="669.05" y1="260.02" x2="669.05" y2="264.03" stroke="#ef5350" stroke-width="0.9" stroke-opacity="0.72"/>
<rect x="668.05" y="261.00" width="2" height="2.10" fill="#ef5350"/>
<line x1="671.56" y1="253.90" x2="671.56" y2="261.68" stroke="#26a69a" stroke-width="0.9" stroke-opacity="0.72"/>
<rect x="670.56" y="255.00" width="2" height="6.00" fill="#26a69a"/>
<line x1="674.08" y1="243.00" x2="674.08" y2="256.45" stroke="#26a69a" stroke-width="0.9" stroke-opacity="0.72"/>
<rect x="673.08" y="245.50" width="2" height="10.00" fill="#26a69a"/>
<line x1="676.60" y1="241.90" x2="676.60" y2="248.20" stroke="#26a69a" stroke-width="0.9" stroke-opacity="0.72"/>
<rect x="675.60" y="244.70" width="2" height="3.00" fill="#26a69a"/>
<line x1="679.12" y1="243.44" x2="679.12" y2="251.30" stroke="#ef5350" stroke-width="0.9" stroke-opacity="0.72"/>
<rect x="678.12" y="244.30" width="2" height="4.90" fill="#ef5350"/>
<line x1="681.63" y1="233.90" x2="681.63" y2="247.58" stroke="#26a69a" stroke-width="0.9" stroke-opacity="0.72"/>
<rect x="680.63" y="238.20" width="2" height="8.80" fill="#26a69a"/>
<line x1="684.15" y1="209.30" x2="684.15" y2="240.16" stroke="#26a69a" stroke-width="0.9" stroke-opacity="0.72"/>
<rect x="683.15" y="210.60" width="2" height="28.70" fill="#26a69a"/>
<line x1="686.67" y1="209.96" x2="686.67" y2="226.30" stroke="#ef5350" stroke-width="0.9" stroke-opacity="0.72"/>
<rect x="685.67" y="210.60" width="2" height="12.40" fill="#ef5350"/>
<line x1="689.18" y1="214.30" x2="689.18" y2="231.70" stroke="#26a69a" stroke-width="0.9" stroke-opacity="0.72"/>
<rect x="688.18" y="219.70" width="2" height="3.30" fill="#26a69a"/>
<line x1="691.70" y1="211.00" x2="691.70" y2="225.20" stroke="#26a69a" stroke-width="0.9" stroke-opacity="0.72"/>
<rect x="690.70" y="217.50" width="2" height="3.30" fill="#26a69a"/>
<line x1="694.22" y1="216.88" x2="694.22" y2="223.00" stroke="#ef5350" stroke-width="0.9" stroke-opacity="0.72"/>
<rect x="693.22" y="217.50" width="2" height="4.00" fill="#ef5350"/>
<line x1="696.74" y1="184.90" x2="696.74" y2="222.67" stroke="#26a69a" stroke-width="0.9" stroke-opacity="0.72"/>
<rect x="695.74" y="201.90" width="2" height="20.00" fill="#26a69a"/>
<line x1="699.26" y1="171.80" x2="699.26" y2="203.01" stroke="#26a69a" stroke-width="0.9" stroke-opacity="0.72"/>
<rect x="698.26" y="175.00" width="2" height="27.30" fill="#26a69a"/>
<line x1="701.77" y1="173.81" x2="701.77" y2="193.60" stroke="#ef5350" stroke-width="0.9" stroke-opacity="0.72"/>
<rect x="700.77" y="175.00" width="2" height="15.30" fill="#ef5350"/>
<line x1="704.29" y1="182.70" x2="704.29" y2="199.98" stroke="#ef5350" stroke-width="0.9" stroke-opacity="0.72"/>
<rect x="703.29" y="189.20" width="2" height="9.80" fill="#ef5350"/>
<line x1="706.81" y1="192.25" x2="706.81" y2="212.00" stroke="#ef5350" stroke-width="0.9" stroke-opacity="0.72"/>
<rect x="705.81" y="193.60" width="2" height="10.90" fill="#ef5350"/>
<line x1="709.33" y1="192.50" x2="709.33" y2="206.60" stroke="#ef5350" stroke-width="0.9" stroke-opacity="0.72"/>
<rect x="708.33" y="196.80" width="2" height="7.70" fill="#ef5350"/>
<line x1="711.84" y1="182.70" x2="711.84" y2="204.49" stroke="#26a69a" stroke-width="0.9" stroke-opacity="0.72"/>
<rect x="710.84" y="196.80" width="2" height="6.60" fill="#26a69a"/>
<line x1="714.36" y1="192.28" x2="714.36" y2="210.00" stroke="#ef5350" stroke-width="0.9" stroke-opacity="0.72"/>
<rect x="713.36" y="193.60" width="2" height="9.80" fill="#ef5350"/>
<line x1="716.88" y1="189.60" x2="716.88" y2="204.69" stroke="#26a69a" stroke-width="0.9" stroke-opacity="0.72"/>
<rect x="715.88" y="196.80" width="2" height="6.60" fill="#26a69a"/>
<line x1="719.39" y1="195.81" x2="719.39" y2="204.19" stroke="#ef5350" stroke-width="0.9" stroke-opacity="0.72"/>
<rect x="718.39" y="196.80" width="2" height="6.60" fill="#ef5350"/>
<line x1="721.91" y1="201.82" x2="721.91" y2="224.00" stroke="#ef5350" stroke-width="0.9" stroke-opacity="0.72"/>
<rect x="720.91" y="203.40" width="2" height="15.20" fill="#ef5350"/>
<line x1="724.43" y1="215.65" x2="724.43" y2="233.90" stroke="#ef5350" stroke-width="0.9" stroke-opacity="0.72"/>
<rect x="723.43" y="216.40" width="2" height="12.00" fill="#ef5350"/>
<line x1="726.95" y1="196.80" x2="726.95" y2="230.60" stroke="#26a69a" stroke-width="0.9" stroke-opacity="0.72"/>
<rect x="725.95" y="201.20" width="2" height="27.20" fill="#26a69a"/>
<line x1="729.46" y1="193.60" x2="729.46" y2="202.35" stroke="#26a69a" stroke-width="0.9" stroke-opacity="0.72"/>
<rect x="728.46" y="197.50" width="2" height="3.70" fill="#26a69a"/>
<line x1="731.98" y1="192.50" x2="731.98" y2="203.38" stroke="#ef5350" stroke-width="0.9" stroke-opacity="0.72"/>
<rect x="730.98" y="197.50" width="2" height="4.80" fill="#ef5350"/>
<line x1="734.50" y1="194.70" x2="734.50" y2="205.44" stroke="#ef5350" stroke-width="0.9" stroke-opacity="0.72"/>
<rect x="733.50" y="201.20" width="2" height="3.70" fill="#ef5350"/>
<line x1="737.02" y1="199.06" x2="737.02" y2="208.80" stroke="#26a69a" stroke-width="0.9" stroke-opacity="0.72"/>
<rect x="736.02" y="200.50" width="2" height="5.10" fill="#26a69a"/>
<line x1="739.54" y1="196.80" x2="739.54" y2="205.80" stroke="#ef5350" stroke-width="0.9" stroke-opacity="0.72"/>
<rect x="738.54" y="200.10" width="2" height="4.40" fill="#ef5350"/>
<line x1="742.05" y1="198.77" x2="742.05" y2="204.76" stroke="#26a69a" stroke-width="0.9" stroke-opacity="0.72"/>
<rect x="741.05" y="200.00" width="2" height="3.60" fill="#26a69a"/>
<line x1="744.57" y1="195.59" x2="744.57" y2="202.13" stroke="#26a69a" stroke-width="0.9" stroke-opacity="0.72"/>
<rect x="743.57" y="197.00" width="2" height="4.50" fill="#26a69a"/>
<line x1="747.09" y1="173.50" x2="747.09" y2="198.27" stroke="#26a69a" stroke-width="0.9" stroke-opacity="0.72"/>
<rect x="746.09" y="183.50" width="2" height="13.80" fill="#26a69a"/>
<line x1="749.61" y1="175.00" x2="749.61" y2="196.30" stroke="#ef5350" stroke-width="0.9" stroke-opacity="0.72"/>
<rect x="748.61" y="183.50" width="2" height="4.50" fill="#ef5350"/>
<line x1="752.12" y1="165.20" x2="752.12" y2="188.45" stroke="#26a69a" stroke-width="0.9" stroke-opacity="0.72"/>
<rect x="751.12" y="169.80" width="2" height="17.70" fill="#26a69a"/>
<line x1="754.64" y1="168.37" x2="754.64" y2="188.00" stroke="#ef5350" stroke-width="0.9" stroke-opacity="0.72"/>
<rect x="753.64" y="169.80" width="2" height="7.50" fill="#ef5350"/>
<line x1="757.16" y1="174.90" x2="757.16" y2="197.54" stroke="#ef5350" stroke-width="0.9" stroke-opacity="0.72"/>
<rect x="756.16" y="176.30" width="2" height="20.00" fill="#ef5350"/>
<line x1="759.67" y1="183.82" x2="759.67" y2="197.10" stroke="#26a69a" stroke-width="0.9" stroke-opacity="0.72"/>
<rect x="758.67" y="185.00" width="2" height="10.80" fill="#26a69a"/>
<line x1="762.19" y1="178.00" x2="762.19" y2="190.41" stroke="#ef5350" stroke-width="0.9" stroke-opacity="0.72"/>
<rect x="761.19" y="185.70" width="2" height="3.60" fill="#ef5350"/>
<rect x="764" y="101.90" width="2" height="34.70" fill="#1b5f59"/>
<rect x="763.71" y="136.60" width="2" height="52.80" fill="#26a69a"/>
<line x1="767.23" y1="122.50" x2="767.23" y2="172.70" stroke="#ef5350" stroke-width="0.9" stroke-opacity="0.72"/>
<rect x="766.23" y="136.60" width="2" height="30.90" fill="#ef5350"/>
<line x1="769.75" y1="148.20" x2="769.75" y2="166.91" stroke="#26a69a" stroke-width="0.9" stroke-opacity="0.72"/>
<rect x="768.75" y="159.80" width="2" height="6.40" fill="#26a69a"/>
<line x1="772.26" y1="125.00" x2="772.26" y2="161.53" stroke="#26a69a" stroke-width="0.9" stroke-opacity="0.72"/>
<rect x="771.26" y="136.60" width="2" height="24.40" fill="#26a69a"/>
<line x1="774.78" y1="125.00" x2="774.78" y2="148.02" stroke="#ef5350" stroke-width="0.9" stroke-opacity="0.72"/>
<rect x="773.78" y="136.60" width="2" height="10.80" fill="#ef5350"/>
<line x1="777.30" y1="130.20" x2="777.30" y2="142.62" stroke="#26a69a" stroke-width="0.9" stroke-opacity="0.72"/>
<rect x="776.30" y="132.80" width="2" height="9.00" fill="#26a69a"/>
<line x1="779.82" y1="117.30" x2="779.82" y2="134.59" stroke="#26a69a" stroke-width="0.9" stroke-opacity="0.72"/>
<rect x="778.82" y="118.60" width="2" height="15.40" fill="#26a69a"/>
<line x1="782.33" y1="104.50" x2="782.33" y2="128.85" stroke="#26a69a" stroke-width="0.9" stroke-opacity="0.72"/>
<rect x="781.33" y="112.20" width="2" height="15.40" fill="#26a69a"/>
<line x1="784.85" y1="94.20" x2="784.85" y2="113.20" stroke="#26a69a" stroke-width="0.9" stroke-opacity="0.72"/>
<rect x="783.85" y="101.90" width="2" height="10.30" fill="#26a69a"/>
</g>
<polyline points="166.0,449.8 169.5,449.8 173.4,450.8 176.4,452.3 180.3,451.2 183.6,448.8 186.1,450.4 192.0,451.4 195.9,451.8 200.8,455.7 203.7,454.3 208.6,458.2 212.9,458.2 216.0,452.7 218.8,458.2 220.7,457.6 223.8,454.7 226.6,457.6 231.0,447.9 235.9,453.1 239.8,449.8 243.8,449.8 246.1,446.5 248.6,445.3 251.2,440.0 254.5,442.0 257.4,442.0 261.3,443.9 263.7,442.0 267.2,444.5 271.1,444.5 277.0,449.8 281.3,446.5 284.8,450.4 288.7,448.4 292.2,456.6 295.5,458.2 299.4,462.1 301.4,457.6 303.9,443.0 309.2,443.4 311.7,440.0 315.0,443.4 319.9,448.4 324.2,442.0 326.8,443.4 329.7,439.5 332.6,440.0 336.5,432.2 339.5,443.4 342.4,442.6 345.3,443.0 346.8,442.0 349.4,446.5 351.7,445.3 356.6,450.8 359.5,446.5 361.9,446.9 365.4,443.4 369.3,444.9 372.2,446.9 374.8,445.9 379.1,448.4 384.9,443.9 388.8,447.9 392.3,451.8 394.7,445.9 397.0,449.8 400.5,445.9 404.5,445.3 407.4,442.6 411.9,446.9 416.2,444.5 419.7,443.9 423.0,440.0 425.0,442.6 427.5,436.1 430.2,440.6 432.8,439.5 437.7,440.6 442.5,443.4 447.4,436.7 450.4,442.0 452.3,443.0 455.6,435.5 458.2,435.5 462.1,438.1 465.0,443.9 467.3,445.9 470.5,433.6 472.8,436.7 476.7,434.8 480.6,429.3 483.0,432.2 486.1,421.9 488.0,418.0 490.0,426.4 492.7,417.2 495.3,419.1 500.5,416.0 505.0,422.5 508.0,433.6 512.9,440.0 515.8,431.6 519.7,427.7 523.2,421.9 525.5,430.3 527.9,428.3 532.4,440.0 535.8,446.5 540.7,437.5 543.3,439.5 546.0,432.2 548.6,434.8 553.8,423.4 556.4,427.3 559.3,421.5 561.3,427.3 563.6,438.1 566.1,440.6 568.1,423.0 570.6,425.4 573.4,443.0 575.9,441.0 583.7,447.3 588.6,444.9 590.9,441.0 595.4,443.4 598.4,443.4 601.3,440.0 604.2,440.0 611.1,445.3 614.0,443.9 616.3,446.5 619.8,443.4 623.8,443.9 629.2,439.1 633.5,442.0 636.4,438.1 639.0,438.7 643.7,432.8 646.8,436.1 651.1,424.4 654.0,425.4 657.0,421.1 659.3,428.3 661.3,425.8 663.8,427.7 666.3,427.0 669.1,429.3 674.5,419.5 676.9,419.1 680.0,422.5 684.3,410.2 686.6,419.5 692.1,418.6 694.5,419.9 699.1,410.7 701.9,419.5 705.8,423.4 709.9,427.0 712.0,425.0 714.6,428.9 717.4,427.0 719.7,430.3 724.4,442.0 727.3,432.0 729.8,431.0 735.2,434.8 737.5,432.8 740.0,434.8 743.4,433.2 746.9,427.7 749.2,429.3 752.3,423.4 754.7,429.3 757.0,436.7 759.6,433.6 762.1,434.8 764.5,421.1 767.4,431.6 769.3,430.9 772.7,425.8 774.6,429.3 778.1,425.8 781.1,423.8 784.4,421.1" fill="none" stroke="#8220a0" stroke-width="0.88" stroke-linejoin="round"/>
<line x1="3.5" y1="402.5" x2="1020.5" y2="402.5" stroke="#6a6a6a" stroke-width="0.8"/>
<line x1="3.5" y1="468.4" x2="1020.5" y2="468.4" stroke="#6a6a6a" stroke-width="0.8"/>
<line x1="984.65" y1="24.5" x2="984.65" y2="484.3" stroke="#6a6a6a" stroke-width="0.8"/>
<rect x="3.5" y="24.5" width="1017.0" height="459.8" fill="none" stroke="#6a6a6a" stroke-width="0.9"/>
<line x1="984.65" y1="45.6" x2="986.85" y2="45.6" stroke="#6a6a6a" stroke-width="0.8"/>
<text x="989.40" y="48.21" font-size="7.2" font-weight="normal" fill="#d4d4d4" textLength="19.90" lengthAdjust="spacingAndGlyphs" stroke="#d4d4d4" stroke-width="0.22">2.4000</text>
<line x1="984.65" y1="68.5" x2="986.85" y2="68.5" stroke="#6a6a6a" stroke-width="0.8"/>
<text x="989.40" y="71.07" font-size="7.2" font-weight="normal" fill="#d4d4d4" textLength="19.90" lengthAdjust="spacingAndGlyphs" stroke="#d4d4d4" stroke-width="0.22">2.2000</text>
<line x1="984.65" y1="91.3" x2="986.85" y2="91.3" stroke="#6a6a6a" stroke-width="0.8"/>
<text x="989.40" y="93.94" font-size="7.2" font-weight="normal" fill="#d4d4d4" textLength="19.90" lengthAdjust="spacingAndGlyphs" stroke="#d4d4d4" stroke-width="0.22">2.0000</text>
<line x1="984.65" y1="137.1" x2="986.85" y2="137.1" stroke="#6a6a6a" stroke-width="0.8"/>
<text x="989.40" y="139.67" font-size="7.2" font-weight="normal" fill="#d4d4d4" textLength="19.90" lengthAdjust="spacingAndGlyphs" stroke="#d4d4d4" stroke-width="0.22">1.6000</text>
<line x1="984.65" y1="159.9" x2="986.85" y2="159.9" stroke="#6a6a6a" stroke-width="0.8"/>
<text x="989.40" y="162.54" font-size="7.2" font-weight="normal" fill="#d4d4d4" textLength="19.90" lengthAdjust="spacingAndGlyphs" stroke="#d4d4d4" stroke-width="0.22">1.4000</text>
<line x1="984.65" y1="182.8" x2="986.85" y2="182.8" stroke="#6a6a6a" stroke-width="0.8"/>
<text x="989.40" y="185.40" font-size="7.2" font-weight="normal" fill="#d4d4d4" textLength="19.90" lengthAdjust="spacingAndGlyphs" stroke="#d4d4d4" stroke-width="0.22">1.2000</text>
<line x1="984.65" y1="205.7" x2="986.85" y2="205.7" stroke="#6a6a6a" stroke-width="0.8"/>
<text x="989.40" y="208.27" font-size="7.2" font-weight="normal" fill="#d4d4d4" textLength="19.90" lengthAdjust="spacingAndGlyphs" stroke="#d4d4d4" stroke-width="0.22">1.0000</text>
<line x1="984.65" y1="228.5" x2="986.85" y2="228.5" stroke="#6a6a6a" stroke-width="0.8"/>
<text x="989.40" y="231.14" font-size="7.2" font-weight="normal" fill="#d4d4d4" textLength="19.90" lengthAdjust="spacingAndGlyphs" stroke="#d4d4d4" stroke-width="0.22">0.8000</text>
<line x1="984.65" y1="251.4" x2="986.85" y2="251.4" stroke="#6a6a6a" stroke-width="0.8"/>
<text x="989.40" y="254.00" font-size="7.2" font-weight="normal" fill="#d4d4d4" textLength="19.90" lengthAdjust="spacingAndGlyphs" stroke="#d4d4d4" stroke-width="0.22">0.6000</text>
<line x1="984.65" y1="274.3" x2="986.85" y2="274.3" stroke="#6a6a6a" stroke-width="0.8"/>
<text x="989.40" y="276.87" font-size="7.2" font-weight="normal" fill="#d4d4d4" textLength="19.90" lengthAdjust="spacingAndGlyphs" stroke="#d4d4d4" stroke-width="0.22">0.4000</text>
<line x1="984.65" y1="297.1" x2="986.85" y2="297.1" stroke="#6a6a6a" stroke-width="0.8"/>
<text x="989.40" y="299.73" font-size="7.2" font-weight="normal" fill="#d4d4d4" textLength="19.90" lengthAdjust="spacingAndGlyphs" stroke="#d4d4d4" stroke-width="0.22">0.2000</text>
<line x1="984.65" y1="320.0" x2="986.85" y2="320.0" stroke="#6a6a6a" stroke-width="0.8"/>
<text x="989.40" y="322.60" font-size="7.2" font-weight="normal" fill="#d4d4d4" textLength="19.90" lengthAdjust="spacingAndGlyphs" stroke="#d4d4d4" stroke-width="0.22">0.0000</text>
<line x1="984.65" y1="342.9" x2="986.85" y2="342.9" stroke="#6a6a6a" stroke-width="0.8"/>
<text x="989.40" y="345.47" font-size="7.2" font-weight="normal" fill="#d4d4d4" textLength="23.50" lengthAdjust="spacingAndGlyphs" stroke="#d4d4d4" stroke-width="0.22">−0.2000</text>
<line x1="984.65" y1="365.7" x2="986.85" y2="365.7" stroke="#6a6a6a" stroke-width="0.8"/>
<text x="989.40" y="368.33" font-size="7.2" font-weight="normal" fill="#d4d4d4" textLength="23.50" lengthAdjust="spacingAndGlyphs" stroke="#d4d4d4" stroke-width="0.22">−0.4000</text>
<line x1="984.65" y1="388.6" x2="986.85" y2="388.6" stroke="#6a6a6a" stroke-width="0.8"/>
<text x="989.40" y="391.20" font-size="7.2" font-weight="normal" fill="#d4d4d4" textLength="23.50" lengthAdjust="spacingAndGlyphs" stroke="#d4d4d4" stroke-width="0.22">−0.6000</text>
<clipPath id="rsiclip"><rect x="984.65" y="402.5" width="35.85000000000002" height="65.49999999999997"/></clipPath>
<g clip-path="url(#rsiclip)">
<line x1="984.65" y1="412.5" x2="986.85" y2="412.5" stroke="#6a6a6a" stroke-width="0.8"/>
<text x="989.10" y="415.10" font-size="7.2" font-weight="normal" fill="#d4d4d4" textLength="16.70" lengthAdjust="spacingAndGlyphs" stroke="#d4d4d4" stroke-width="0.22">80.00</text>
<line x1="984.65" y1="430.9" x2="986.85" y2="430.9" stroke="#6a6a6a" stroke-width="0.8"/>
<text x="989.10" y="433.50" font-size="7.2" font-weight="normal" fill="#d4d4d4" textLength="16.70" lengthAdjust="spacingAndGlyphs" stroke="#d4d4d4" stroke-width="0.22">60.00</text>
<line x1="984.65" y1="449.4" x2="986.85" y2="449.4" stroke="#6a6a6a" stroke-width="0.8"/>
<text x="989.10" y="452.00" font-size="7.2" font-weight="normal" fill="#d4d4d4" textLength="16.70" lengthAdjust="spacingAndGlyphs" stroke="#d4d4d4" stroke-width="0.22">40.00</text>
<line x1="984.65" y1="467.8" x2="986.85" y2="467.8" stroke="#6a6a6a" stroke-width="0.8"/>
<text x="989.10" y="470.40" font-size="7.2" font-weight="normal" fill="#d4d4d4" textLength="16.70" lengthAdjust="spacingAndGlyphs" stroke="#d4d4d4" stroke-width="0.22">20.00</text>
</g>
<rect x="984.1" y="97.1" width="29.95" height="10.75" fill="#26a69a"/>
<line x1="984.4" y1="102.5" x2="986.5" y2="102.5" stroke="#d8f0ed" stroke-width="0.8"/>
<text x="989.80" y="105.10" font-size="7.2" font-weight="normal" fill="#fff" textLength="19.50" lengthAdjust="spacingAndGlyphs" stroke="#fff" stroke-width="0.22">1.8949</text>
<rect x="984.9" y="108.85" width="33.20" height="10.25" fill="#26a69a"/>
<text x="987.10" y="116.40" font-size="7.2" font-weight="normal" fill="#fff" textLength="25.90" lengthAdjust="spacingAndGlyphs" stroke="#fff" stroke-width="0.22">13:00:56</text>
<line x1="163" y1="468.4" x2="163" y2="470.4" stroke="#6a6a6a" stroke-width="0.8"/>
<text x="163.00" y="479.20" font-size="6.6" font-weight="normal" fill="#d4d4d4" text-anchor="middle" stroke="#d4d4d4" stroke-width="0.22">Oct</text>
<line x1="241" y1="468.4" x2="241" y2="470.4" stroke="#6a6a6a" stroke-width="0.8"/>
<text x="241.00" y="479.20" font-size="6.6" font-weight="normal" fill="#d4d4d4" text-anchor="middle" stroke="#d4d4d4" stroke-width="0.22">Nov</text>
<line x1="316.5" y1="468.4" x2="316.5" y2="470.4" stroke="#6a6a6a" stroke-width="0.8"/>
<text x="316.50" y="479.20" font-size="6.6" font-weight="normal" fill="#d4d4d4" text-anchor="middle" stroke="#d4d4d4" stroke-width="0.22">Dec</text>
<line x1="394.6" y1="468.4" x2="394.6" y2="470.4" stroke="#6a6a6a" stroke-width="0.8"/>
<text x="394.60" y="479.20" font-size="6.6" font-weight="bold" fill="#d4d4d4" text-anchor="middle" stroke="#d4d4d4" stroke-width="0.08">2020</text>
<line x1="472.7" y1="468.4" x2="472.7" y2="470.4" stroke="#6a6a6a" stroke-width="0.8"/>
<text x="472.70" y="479.20" font-size="6.6" font-weight="normal" fill="#d4d4d4" text-anchor="middle" stroke="#d4d4d4" stroke-width="0.22">Feb</text>
<line x1="545.8" y1="468.4" x2="545.8" y2="470.4" stroke="#6a6a6a" stroke-width="0.8"/>
<text x="545.80" y="479.20" font-size="6.6" font-weight="normal" fill="#d4d4d4" text-anchor="middle" stroke="#d4d4d4" stroke-width="0.22">Mar</text>
<line x1="623.9" y1="468.4" x2="623.9" y2="470.4" stroke="#6a6a6a" stroke-width="0.8"/>
<text x="623.90" y="479.20" font-size="6.6" font-weight="normal" fill="#d4d4d4" text-anchor="middle" stroke="#d4d4d4" stroke-width="0.22">Apr</text>
<line x1="699.5" y1="468.4" x2="699.5" y2="470.4" stroke="#6a6a6a" stroke-width="0.8"/>
<text x="699.50" y="479.20" font-size="6.6" font-weight="normal" fill="#d4d4d4" text-anchor="middle" stroke="#d4d4d4" stroke-width="0.22">May</text>
<line x1="777.6" y1="468.4" x2="777.6" y2="470.4" stroke="#6a6a6a" stroke-width="0.8"/>
<text x="777.60" y="479.20" font-size="6.6" font-weight="normal" fill="#d4d4d4" text-anchor="middle" stroke="#d4d4d4" stroke-width="0.22">Jun</text>
<line x1="852.2" y1="468.4" x2="852.2" y2="470.4" stroke="#6a6a6a" stroke-width="0.8"/>
<text x="852.20" y="479.20" font-size="6.6" font-weight="normal" fill="#d4d4d4" text-anchor="middle" stroke="#d4d4d4" stroke-width="0.22">Jul</text>
<line x1="930.1" y1="468.4" x2="930.1" y2="470.4" stroke="#6a6a6a" stroke-width="0.8"/>
<text x="930.10" y="479.20" font-size="6.6" font-weight="normal" fill="#d4d4d4" text-anchor="middle" stroke="#d4d4d4" stroke-width="0.22">Aug</text>
<rect x="283.5" y="468.7" width="36.9" height="12.3" fill="#f4f4f4"/>
<line x1="301.4" y1="468.7" x2="301.4" y2="470.8" stroke="#555" stroke-width="0.8"/>
<text x="286.80" y="478.20" font-size="7" font-weight="normal" fill="#4a4a4a" textLength="30.30" lengthAdjust="spacingAndGlyphs" stroke="#4a4a4a" stroke-width="0.22">25 Nov '19</text>
<rect x="680.5" y="468.7" width="37.5" height="12.3" fill="#f4f4f4"/>
<line x1="699.5" y1="468.7" x2="699.5" y2="470.8" stroke="#555" stroke-width="0.8"/>
<text x="683.80" y="478.20" font-size="7" font-weight="normal" fill="#4a4a4a" textLength="30.90" lengthAdjust="spacingAndGlyphs" stroke="#4a4a4a" stroke-width="0.22">01 May '20</text>
<rect x="746.1" y="468.7" width="37.5" height="12.3" fill="#f4f4f4"/>
<line x1="764.9" y1="468.7" x2="764.9" y2="470.8" stroke="#555" stroke-width="0.8"/>
<text x="749.40" y="478.20" font-size="7" font-weight="normal" fill="#4a4a4a" textLength="30.90" lengthAdjust="spacingAndGlyphs" stroke="#4a4a4a" stroke-width="0.22">27 May '20</text>
<text x="8.80" y="36.30" font-size="7.7" font-weight="normal" fill="#cfcfcf" textLength="101.80" lengthAdjust="spacingAndGlyphs" stroke="#cfcfcf" stroke-width="0.22">BAND / TetherUS, 1D, BINANCE</text>
<text x="8.60" y="46.15" font-size="7.6" font-weight="normal" fill="#cfcfcf" textLength="23.70" lengthAdjust="spacingAndGlyphs" stroke="#cfcfcf" stroke-width="0.22">Vol (20)</text>
<text x="8.80" y="414.70" font-size="7.6" font-weight="normal" fill="#cfcfcf" textLength="43.00" lengthAdjust="spacingAndGlyphs" stroke="#cfcfcf" stroke-width="0.22">RSI (14, close)</text>
<text x="3.75" y="9.60" font-size="7.7" font-weight="bold" fill="#f2f2f2" textLength="37.65" lengthAdjust="spacingAndGlyphs" stroke="#f2f2f2" stroke-width="0.08">Pickacrypto</text>
<text x="43.40" y="9.60" font-size="7.7" font-weight="normal" fill="#d8d8d8" textLength="190.20" lengthAdjust="spacingAndGlyphs" stroke="#d8d8d8" stroke-width="0.22">published on TradingView.com, June 04, 2020 20:59:05 AEST</text>
<text x="3.75" y="19.10" font-size="7.7" font-weight="bold" fill="#f2f2f2" textLength="80.15" lengthAdjust="spacingAndGlyphs" stroke="#f2f2f2" stroke-width="0.08">BINANCE:BANDUSDT, 1D</text>
<text x="88.30" y="19.10" font-size="7.7" font-weight="normal" fill="#d8d8d8" textLength="20.60" lengthAdjust="spacingAndGlyphs" stroke="#d8d8d8" stroke-width="0.22">1.8949</text>
<polygon points="110.7,18.9 117.1,18.9 113.9,13.5" fill="#26a69a"/>
<text x="119.00" y="19.10" font-size="7.7" font-weight="normal" fill="#d8d8d8" textLength="55.20" lengthAdjust="spacingAndGlyphs" stroke="#d8d8d8" stroke-width="0.22">+0.0809 (+4.46%)</text>
<text x="176.90" y="19.10" font-size="7.7" font-weight="bold" fill="#f2f2f2" textLength="6.40" lengthAdjust="spacingAndGlyphs" stroke="#f2f2f2" stroke-width="0.08">O:</text>
<text x="184.70" y="19.10" font-size="7.7" font-weight="normal" fill="#26a69a" textLength="21.10" lengthAdjust="spacingAndGlyphs" stroke="#26a69a" stroke-width="0.22">1.8144</text>
<text x="208.90" y="19.10" font-size="7.7" font-weight="bold" fill="#f2f2f2" textLength="6.40" lengthAdjust="spacingAndGlyphs" stroke="#f2f2f2" stroke-width="0.08">H:</text>
<text x="216.90" y="19.10" font-size="7.7" font-weight="normal" fill="#26a69a" textLength="21.10" lengthAdjust="spacingAndGlyphs" stroke="#26a69a" stroke-width="0.22">1.9650</text>
<text x="241.10" y="19.10" font-size="7.7" font-weight="bold" fill="#f2f2f2" textLength="4.70" lengthAdjust="spacingAndGlyphs" stroke="#f2f2f2" stroke-width="0.08">L:</text>
<text x="247.20" y="19.10" font-size="7.7" font-weight="normal" fill="#26a69a" textLength="21.10" lengthAdjust="spacingAndGlyphs" stroke="#26a69a" stroke-width="0.22">1.8144</text>
<text x="271.10" y="19.10" font-size="7.7" font-weight="bold" fill="#f2f2f2" textLength="5.50" lengthAdjust="spacingAndGlyphs" stroke="#f2f2f2" stroke-width="0.08">C:</text>
<text x="278.10" y="19.10" font-size="7.7" font-weight="normal" fill="#26a69a" textLength="20.80" lengthAdjust="spacingAndGlyphs" stroke="#26a69a" stroke-width="0.22">1.8949</text>
<circle cx="17" cy="455.2" r="8.9" fill="#2a2e39"/>
<g transform="translate(11.0,451.6) scale(0.8)">
<path d="M2.6 9 C1.1 9 0 7.9 0 6.5 C0 5.2 0.9 4.2 2.1 4 C2.3 1.8 4.1 0 6.4 0 C7.9 0 9.2 0.8 10 2 C10.4 1.9 10.8 1.8 11.2 1.8 C13.3 1.8 15 3.5 15 5.6 C15 7.5 13.5 9 11.6 9 Z" fill="#2196f3"/>
<path d="M0.8 6.7 L5.6 3.0 L9.2 7.2 L11.8 4.1 L14.3 6.3" fill="none" stroke="#10131c" stroke-width="1.05" stroke-linejoin="round" stroke-linecap="round"/>
</g>
<g transform="translate(3.3,490.0) scale(0.98)">
<path d="M2.6 9 C1.1 9 0 7.9 0 6.5 C0 5.2 0.9 4.2 2.1 4 C2.3 1.8 4.1 0 6.4 0 C7.9 0 9.2 0.8 10 2 C10.4 1.9 10.8 1.8 11.2 1.8 C13.3 1.8 15 3.5 15 5.6 C15 7.5 13.5 9 11.6 9 Z" fill="#2196f3"/>
<path d="M0.8 6.7 L5.6 3.0 L9.2 7.2 L11.8 4.1 L14.3 6.3" fill="none" stroke="#10131c" stroke-width="1.05" stroke-linejoin="round" stroke-linecap="round"/>
</g>
<text x="19.10" y="497.00" font-size="7.4" font-weight="normal" fill="#cfcfcf" textLength="39.90" lengthAdjust="spacingAndGlyphs" stroke="#cfcfcf" stroke-width="0.15">TradingView</text>
</svg>
</body></html>
